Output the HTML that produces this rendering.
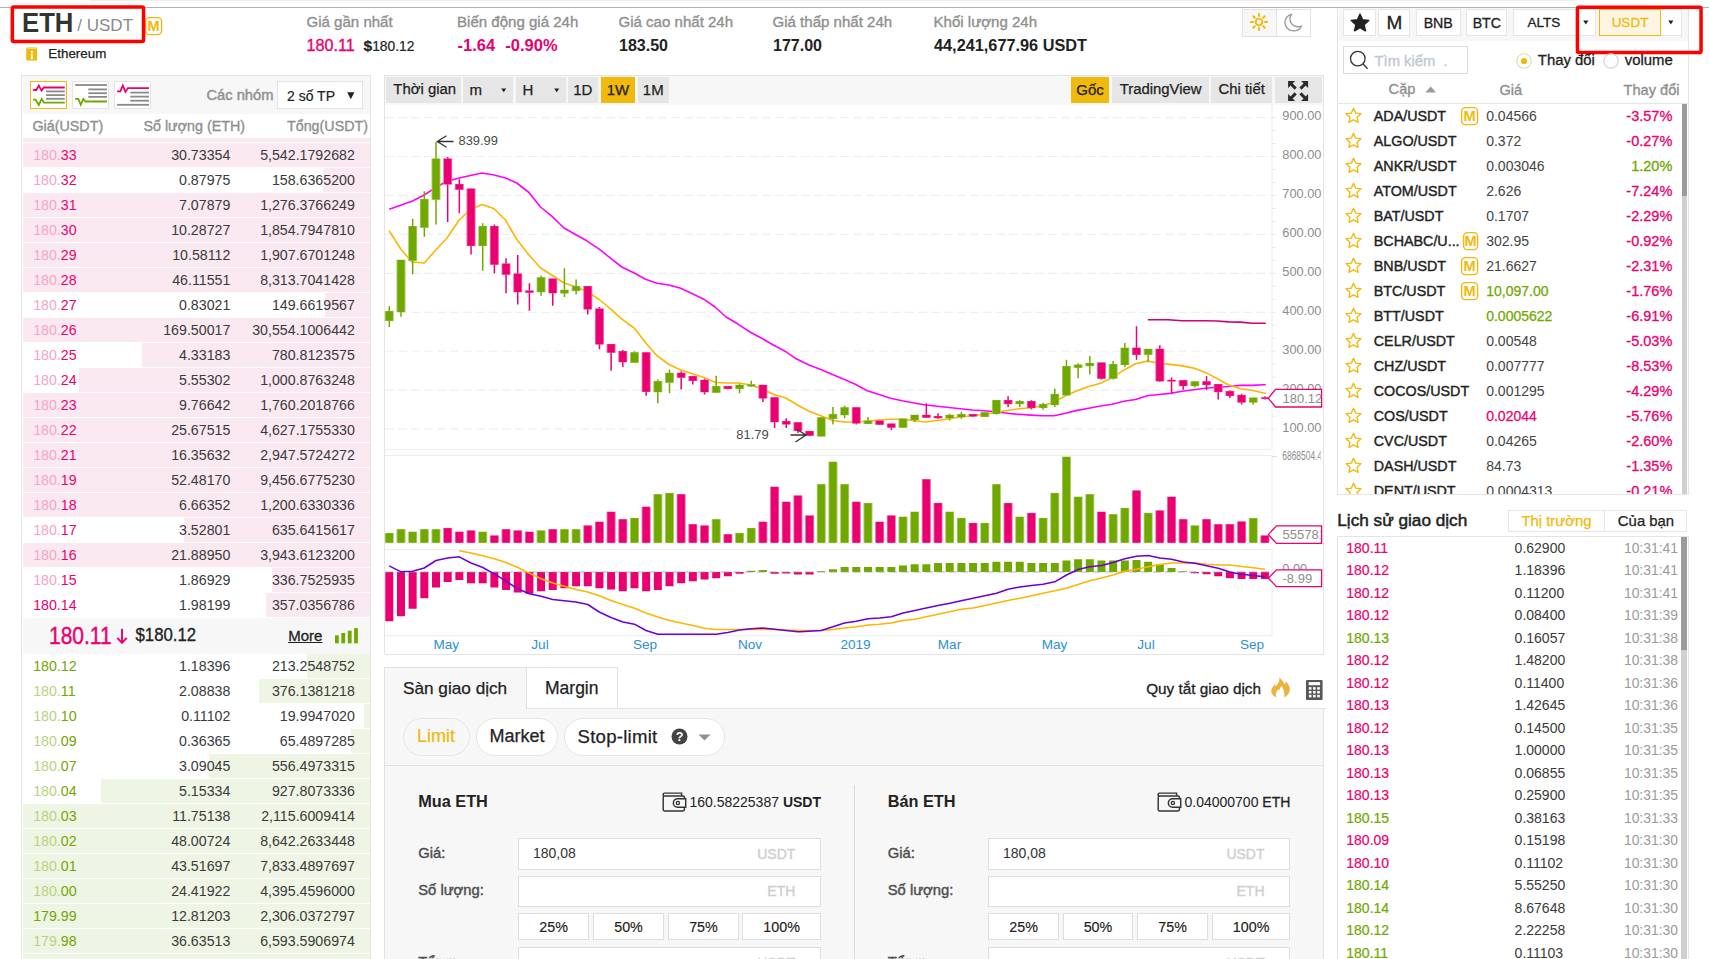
<!DOCTYPE html>
<html><head><meta charset="utf-8"><title>ETH/USDT</title>
<style>
html,body{margin:0;padding:0;}
body{width:1709px;height:959px;overflow:hidden;background:#fff;font-family:"Liberation Sans",sans-serif;position:relative;color:#333;}
#root{position:absolute;left:0;top:0;width:1709px;height:959px;overflow:hidden;}
svg{position:absolute;overflow:visible;}
</style></head><body><div id="root">
<div style="position:absolute;left:90.00px;top:0.00px;width:1487.00px;height:1.00px;box-sizing:border-box;background:#eef0f2;"></div>
<div style="position:absolute;left:0.00px;top:7.00px;width:1709.00px;height:1.00px;box-sizing:border-box;background:#b2b2b5;"></div>
<div style="position:absolute;left:22px;top:6px;font-size:27.5px;line-height:34px;font-weight:bold;color:#333;transform:scaleX(0.935);transform-origin:0 50%;white-space:nowrap;">ETH</div>
<div style="position:absolute;top:14.40px;line-height:24px;font-size:17px;color:#8a8a8a;white-space:nowrap;left:77.30px;">/ USDT</div>
<svg style="left:145.4px;top:16.6px" width="17.2" height="18.2" viewBox="0 0 17.2 18.2"><rect x="0.6" y="0.6" width="16" height="17" rx="3.6" fill="#fff" stroke="#f0b90b" stroke-width="1.4"/><text x="8.6" y="14.4" font-size="14.6" font-weight="bold" fill="#f0b90b" text-anchor="middle" font-family="Liberation Sans, sans-serif">M</text></svg>
<svg style="left:0;top:0" width="200" height="60"><rect x="12.35" y="7.05" width="131.2" height="34.4" rx="1.5" fill="none" stroke="#ff0000" stroke-width="3.5"/></svg>
<svg style="left:25px;top:46.5px" width="13" height="14" viewBox="0 0 13 14">
<path d="M1.2 2.2 Q1.2 0.6 2.8 0.6 H11 Q12.2 0.6 12.2 1.8 V12.4 Q12.2 13.6 11 13.6 H2.4 Q1.2 13.6 1.2 12.4 Z" fill="#f0b90b"/>
<path d="M2.2 1.6 H11.4" stroke="#f8d978" stroke-width="1" fill="none"/>
<rect x="5.9" y="6.8" width="1.9" height="5.2" fill="#fff"/><rect x="5.9" y="4" width="1.9" height="1.9" fill="#fff"/></svg>
<div style="position:absolute;top:44.00px;line-height:19px;font-size:13.4px;color:#222;white-space:nowrap;-webkit-text-stroke:0.25px #222;left:48.30px;">Ethereum</div>
<div style="position:absolute;top:10.50px;line-height:21px;font-size:15.05px;color:#8f8f8f;white-space:nowrap;-webkit-text-stroke:0.35px #8f8f8f;left:306.50px;">Giá gần nhất</div>
<div style="position:absolute;top:34.00px;line-height:23px;font-size:16.2px;color:#ea0070;white-space:nowrap;-webkit-text-stroke:0.35px #ea0070;left:306.50px;">180.11</div>
<div style="position:absolute;top:36.00px;line-height:19px;font-size:13.8px;color:#222;white-space:nowrap;-webkit-text-stroke:0.2px #222;left:363.50px;"><span style="font-weight:bold;font-size:15.5px">$</span>180.12</div>
<div style="position:absolute;top:10.50px;line-height:21px;font-size:15.05px;color:#8f8f8f;white-space:nowrap;-webkit-text-stroke:0.35px #8f8f8f;left:457.00px;">Biến động giá 24h</div>
<div style="position:absolute;top:34.00px;line-height:23px;font-size:16.5px;color:#ea0070;white-space:nowrap;font-weight:bold;left:457.50px;">-1.64</div>
<div style="position:absolute;top:34.00px;line-height:23px;font-size:16.5px;color:#ea0070;white-space:nowrap;font-weight:bold;left:505.30px;">-0.90%</div>
<div style="position:absolute;top:10.50px;line-height:21px;font-size:15.05px;color:#8f8f8f;white-space:nowrap;-webkit-text-stroke:0.35px #8f8f8f;left:618.50px;">Giá cao nhất 24h</div>
<div style="position:absolute;top:34.50px;line-height:22px;font-size:16px;color:#222;white-space:nowrap;font-weight:bold;left:619.00px;">183.50</div>
<div style="position:absolute;top:10.50px;line-height:21px;font-size:15.05px;color:#8f8f8f;white-space:nowrap;-webkit-text-stroke:0.35px #8f8f8f;left:772.50px;">Giá thấp nhất 24h</div>
<div style="position:absolute;top:34.50px;line-height:22px;font-size:16px;color:#222;white-space:nowrap;font-weight:bold;left:773.00px;">177.00</div>
<div style="position:absolute;top:10.50px;line-height:21px;font-size:15.05px;color:#8f8f8f;white-space:nowrap;-webkit-text-stroke:0.35px #8f8f8f;left:933.50px;">Khối lượng 24h</div>
<div style="position:absolute;top:34.00px;line-height:23px;font-size:16.3px;color:#222;white-space:nowrap;font-weight:bold;left:934.00px;">44,241,677.96 USDT</div>
<div style="position:absolute;left:1242.00px;top:9.20px;width:69.00px;height:27.80px;box-sizing:border-box;background:#fff;border:1px solid #e3e3e3;"></div>
<div style="position:absolute;left:1243.00px;top:10.20px;width:33.50px;height:25.80px;box-sizing:border-box;background:#f7f7f7;border-right:1px solid #e3e3e3;"></div>
<svg style="left:1247.9px;top:11.3px" width="22" height="22" viewBox="0 0 22 22" fill="none" stroke="#f0b90b" stroke-width="2" stroke-linecap="round">
<circle cx="11" cy="11" r="3.35" stroke-width="1.9"/>
<path d="M11 2.9V5M11 17V19.1M2.9 11H5M17 11H19.1M5.3 5.3L6.8 6.8M15.2 15.2L16.7 16.7M5.3 16.7L6.8 15.2M15.2 6.8L16.7 5.3"/></svg>
<svg style="left:1283px;top:12px" width="22" height="22" viewBox="0 0 22 22" fill="none" stroke="#9a9a9a" stroke-width="1.35" stroke-linejoin="round">
<path d="M8.7 2.1 C4.5 3.5 1.9 6.5 1.9 10.3 C1.9 15.2 5.8 18.9 10.6 18.9 C14.2 18.9 17.2 17 18.5 14 C16.9 14.7 15.3 14.9 13.6 14.5 C10.9 13.9 8.7 12.4 7.6 9.9 C6.5 7.4 6.9 4.5 8.7 2.1 Z"/></svg>
<div style="position:absolute;left:21.00px;top:75.00px;width:350.00px;height:889.00px;box-sizing:border-box;background:#fff;border:1px solid #e4e4e4;"></div>
<div style="position:absolute;left:23.00px;top:76.00px;width:347.00px;height:38.00px;box-sizing:border-box;background:#f7f7f7;"></div>
<svg style="left:30px;top:81px" width="37" height="28" viewBox="0 0 37 28" fill="none"><rect x="0.5" y="0.5" width="36" height="27" fill="#fff" stroke="#f0b90b"/><path d="M3.1 9H6.3L8.8 4.6L11.6 9.6L13.8 6.5H34.8" stroke="#ea0070" stroke-width="1.8"/><path d="M16 10.4H34.8" stroke="#8a8a8a" stroke-width="1.8"/><path d="M16 14.1H34.8" stroke="#8a8a8a" stroke-width="1.8"/><path d="M16 17.8H34.8" stroke="#8a8a8a" stroke-width="1.8"/><path d="M3.1 18.7H5.6L8.8 24L11.6 18L14 21.6H34.8" stroke="#70a800" stroke-width="1.8"/></svg>
<svg style="left:72px;top:81px" width="37" height="28" viewBox="0 0 37 28" fill="none"><rect x="0.5" y="0.5" width="36" height="27" fill="#fff" stroke="#e4e4e4"/><path d="M3.1 4H35" stroke="#8a8a8a" stroke-width="1.8"/><path d="M16.3 8.4H35" stroke="#8a8a8a" stroke-width="1.8"/><path d="M16.3 12.2H35" stroke="#8a8a8a" stroke-width="1.8"/><path d="M16.3 15.9H35" stroke="#8a8a8a" stroke-width="1.8"/><path d="M3.1 17.8H6.3L8.8 23.8L11.3 18L13.4 20.5H35" stroke="#70a800" stroke-width="1.8"/></svg>
<svg style="left:114px;top:81px" width="37" height="28" viewBox="0 0 37 28" fill="none"><rect x="0.5" y="0.5" width="36" height="27" fill="#fff" stroke="#e4e4e4"/><path d="M3.1 10.3H6.3L8.8 4.6L11.5 10.9L13.8 7.1H35" stroke="#ea0070" stroke-width="1.8"/><path d="M16.3 11.6H35" stroke="#8a8a8a" stroke-width="1.8"/><path d="M16.3 15.6H35" stroke="#8a8a8a" stroke-width="1.8"/><path d="M16.3 19.7H35" stroke="#8a8a8a" stroke-width="1.8"/><path d="M3.1 23.8H35" stroke="#8a8a8a" stroke-width="1.8"/></svg>
<div style="position:absolute;top:84.50px;line-height:21px;font-size:14.7px;color:#919191;white-space:nowrap;-webkit-text-stroke:0.45px #919191;left:206.50px;">Các nhóm</div>
<div style="position:absolute;left:277.00px;top:81.00px;width:86.00px;height:27.50px;box-sizing:border-box;background:#fff;border:1px solid #e4e4e4;"></div>
<div style="position:absolute;top:85.50px;line-height:20px;font-size:14px;color:#222;white-space:nowrap;-webkit-text-stroke:0.2px #222;left:287.00px;">2 số TP</div>
<svg style="left:346.5px;top:92px" width="8" height="8" viewBox="0 0 8 8"><path d="M0.2 0.3H7.4L3.8 7.2Z" fill="#222"/></svg>
<div style="position:absolute;top:116.00px;line-height:20px;font-size:14.3px;color:#8f8f8f;white-space:nowrap;-webkit-text-stroke:0.35px #8f8f8f;left:32.50px;">Giá(USDT)</div>
<div style="position:absolute;top:116.00px;line-height:20px;font-size:14.3px;color:#8f8f8f;white-space:nowrap;-webkit-text-stroke:0.35px #8f8f8f;right:1464.00px;">Số lượng (ETH)</div>
<div style="position:absolute;top:116.00px;line-height:20px;font-size:14.3px;color:#8f8f8f;white-space:nowrap;-webkit-text-stroke:0.35px #8f8f8f;right:1341.00px;">Tổng(USDT)</div>
<div style="position:absolute;left:23.00px;top:138.00px;width:346.70px;height:3.80px;box-sizing:border-box;background:#fbe9f1;"></div>
<div style="position:absolute;left:23.00px;top:143.30px;width:346.70px;height:23.40px;box-sizing:border-box;background:#fbe9f1;"></div>
<div style="position:absolute;top:144.90px;line-height:20px;font-size:14.2px;color:#333;white-space:nowrap;left:33.20px;"><span style="color:#f7a3c9">180.</span><span style="color:#ea0070">33</span></div>
<div style="position:absolute;top:144.90px;line-height:20px;font-size:14.2px;color:#3a3a3a;white-space:nowrap;right:1478.70px;">30.73354</div>
<div style="position:absolute;top:144.90px;line-height:20px;font-size:14.2px;color:#3a3a3a;white-space:nowrap;right:1354.20px;">5,542.1792682</div>
<div style="position:absolute;left:322.80px;top:168.30px;width:46.90px;height:23.40px;box-sizing:border-box;background:#fbe9f1;"></div>
<div style="position:absolute;top:169.90px;line-height:20px;font-size:14.2px;color:#333;white-space:nowrap;left:33.20px;"><span style="color:#f7a3c9">180.</span><span style="color:#ea0070">32</span></div>
<div style="position:absolute;top:169.90px;line-height:20px;font-size:14.2px;color:#3a3a3a;white-space:nowrap;right:1478.70px;">0.87975</div>
<div style="position:absolute;top:169.90px;line-height:20px;font-size:14.2px;color:#3a3a3a;white-space:nowrap;right:1354.20px;">158.6365200</div>
<div style="position:absolute;left:23.00px;top:193.30px;width:346.70px;height:23.40px;box-sizing:border-box;background:#fbe9f1;"></div>
<div style="position:absolute;top:194.90px;line-height:20px;font-size:14.2px;color:#333;white-space:nowrap;left:33.20px;"><span style="color:#f7a3c9">180.</span><span style="color:#ea0070">31</span></div>
<div style="position:absolute;top:194.90px;line-height:20px;font-size:14.2px;color:#3a3a3a;white-space:nowrap;right:1478.70px;">7.07879</div>
<div style="position:absolute;top:194.90px;line-height:20px;font-size:14.2px;color:#3a3a3a;white-space:nowrap;right:1354.20px;">1,276.3766249</div>
<div style="position:absolute;left:23.00px;top:218.30px;width:346.70px;height:23.40px;box-sizing:border-box;background:#fbe9f1;"></div>
<div style="position:absolute;top:219.90px;line-height:20px;font-size:14.2px;color:#333;white-space:nowrap;left:33.20px;"><span style="color:#f7a3c9">180.</span><span style="color:#ea0070">30</span></div>
<div style="position:absolute;top:219.90px;line-height:20px;font-size:14.2px;color:#3a3a3a;white-space:nowrap;right:1478.70px;">10.28727</div>
<div style="position:absolute;top:219.90px;line-height:20px;font-size:14.2px;color:#3a3a3a;white-space:nowrap;right:1354.20px;">1,854.7947810</div>
<div style="position:absolute;left:23.00px;top:243.30px;width:346.70px;height:23.40px;box-sizing:border-box;background:#fbe9f1;"></div>
<div style="position:absolute;top:244.90px;line-height:20px;font-size:14.2px;color:#333;white-space:nowrap;left:33.20px;"><span style="color:#f7a3c9">180.</span><span style="color:#ea0070">29</span></div>
<div style="position:absolute;top:244.90px;line-height:20px;font-size:14.2px;color:#3a3a3a;white-space:nowrap;right:1478.70px;">10.58112</div>
<div style="position:absolute;top:244.90px;line-height:20px;font-size:14.2px;color:#3a3a3a;white-space:nowrap;right:1354.20px;">1,907.6701248</div>
<div style="position:absolute;left:23.00px;top:268.30px;width:346.70px;height:23.40px;box-sizing:border-box;background:#fbe9f1;"></div>
<div style="position:absolute;top:269.90px;line-height:20px;font-size:14.2px;color:#333;white-space:nowrap;left:33.20px;"><span style="color:#f7a3c9">180.</span><span style="color:#ea0070">28</span></div>
<div style="position:absolute;top:269.90px;line-height:20px;font-size:14.2px;color:#3a3a3a;white-space:nowrap;right:1478.70px;">46.11551</div>
<div style="position:absolute;top:269.90px;line-height:20px;font-size:14.2px;color:#3a3a3a;white-space:nowrap;right:1354.20px;">8,313.7041428</div>
<div style="position:absolute;left:325.40px;top:293.30px;width:44.30px;height:23.40px;box-sizing:border-box;background:#fbe9f1;"></div>
<div style="position:absolute;top:294.90px;line-height:20px;font-size:14.2px;color:#333;white-space:nowrap;left:33.20px;"><span style="color:#f7a3c9">180.</span><span style="color:#ea0070">27</span></div>
<div style="position:absolute;top:294.90px;line-height:20px;font-size:14.2px;color:#3a3a3a;white-space:nowrap;right:1478.70px;">0.83021</div>
<div style="position:absolute;top:294.90px;line-height:20px;font-size:14.2px;color:#3a3a3a;white-space:nowrap;right:1354.20px;">149.6619567</div>
<div style="position:absolute;left:23.00px;top:318.30px;width:346.70px;height:23.40px;box-sizing:border-box;background:#fbe9f1;"></div>
<div style="position:absolute;top:319.90px;line-height:20px;font-size:14.2px;color:#333;white-space:nowrap;left:33.20px;"><span style="color:#f7a3c9">180.</span><span style="color:#ea0070">26</span></div>
<div style="position:absolute;top:319.90px;line-height:20px;font-size:14.2px;color:#3a3a3a;white-space:nowrap;right:1478.70px;">169.50017</div>
<div style="position:absolute;top:319.90px;line-height:20px;font-size:14.2px;color:#3a3a3a;white-space:nowrap;right:1354.20px;">30,554.1006442</div>
<div style="position:absolute;left:141.80px;top:343.30px;width:227.90px;height:23.40px;box-sizing:border-box;background:#fbe9f1;"></div>
<div style="position:absolute;top:344.90px;line-height:20px;font-size:14.2px;color:#333;white-space:nowrap;left:33.20px;"><span style="color:#f7a3c9">180.</span><span style="color:#ea0070">25</span></div>
<div style="position:absolute;top:344.90px;line-height:20px;font-size:14.2px;color:#3a3a3a;white-space:nowrap;right:1478.70px;">4.33183</div>
<div style="position:absolute;top:344.90px;line-height:20px;font-size:14.2px;color:#3a3a3a;white-space:nowrap;right:1354.20px;">780.8123575</div>
<div style="position:absolute;left:79.00px;top:368.30px;width:290.70px;height:23.40px;box-sizing:border-box;background:#fbe9f1;"></div>
<div style="position:absolute;top:369.90px;line-height:20px;font-size:14.2px;color:#333;white-space:nowrap;left:33.20px;"><span style="color:#f7a3c9">180.</span><span style="color:#ea0070">24</span></div>
<div style="position:absolute;top:369.90px;line-height:20px;font-size:14.2px;color:#3a3a3a;white-space:nowrap;right:1478.70px;">5.55302</div>
<div style="position:absolute;top:369.90px;line-height:20px;font-size:14.2px;color:#3a3a3a;white-space:nowrap;right:1354.20px;">1,000.8763248</div>
<div style="position:absolute;left:23.00px;top:393.30px;width:346.70px;height:23.40px;box-sizing:border-box;background:#fbe9f1;"></div>
<div style="position:absolute;top:394.90px;line-height:20px;font-size:14.2px;color:#333;white-space:nowrap;left:33.20px;"><span style="color:#f7a3c9">180.</span><span style="color:#ea0070">23</span></div>
<div style="position:absolute;top:394.90px;line-height:20px;font-size:14.2px;color:#3a3a3a;white-space:nowrap;right:1478.70px;">9.76642</div>
<div style="position:absolute;top:394.90px;line-height:20px;font-size:14.2px;color:#3a3a3a;white-space:nowrap;right:1354.20px;">1,760.2018766</div>
<div style="position:absolute;left:23.00px;top:418.30px;width:346.70px;height:23.40px;box-sizing:border-box;background:#fbe9f1;"></div>
<div style="position:absolute;top:419.90px;line-height:20px;font-size:14.2px;color:#333;white-space:nowrap;left:33.20px;"><span style="color:#f7a3c9">180.</span><span style="color:#ea0070">22</span></div>
<div style="position:absolute;top:419.90px;line-height:20px;font-size:14.2px;color:#3a3a3a;white-space:nowrap;right:1478.70px;">25.67515</div>
<div style="position:absolute;top:419.90px;line-height:20px;font-size:14.2px;color:#3a3a3a;white-space:nowrap;right:1354.20px;">4,627.1755330</div>
<div style="position:absolute;left:23.00px;top:443.30px;width:346.70px;height:23.40px;box-sizing:border-box;background:#fbe9f1;"></div>
<div style="position:absolute;top:444.90px;line-height:20px;font-size:14.2px;color:#333;white-space:nowrap;left:33.20px;"><span style="color:#f7a3c9">180.</span><span style="color:#ea0070">21</span></div>
<div style="position:absolute;top:444.90px;line-height:20px;font-size:14.2px;color:#3a3a3a;white-space:nowrap;right:1478.70px;">16.35632</div>
<div style="position:absolute;top:444.90px;line-height:20px;font-size:14.2px;color:#3a3a3a;white-space:nowrap;right:1354.20px;">2,947.5724272</div>
<div style="position:absolute;left:23.00px;top:468.30px;width:346.70px;height:23.40px;box-sizing:border-box;background:#fbe9f1;"></div>
<div style="position:absolute;top:469.90px;line-height:20px;font-size:14.2px;color:#333;white-space:nowrap;left:33.20px;"><span style="color:#f7a3c9">180.</span><span style="color:#ea0070">19</span></div>
<div style="position:absolute;top:469.90px;line-height:20px;font-size:14.2px;color:#3a3a3a;white-space:nowrap;right:1478.70px;">52.48170</div>
<div style="position:absolute;top:469.90px;line-height:20px;font-size:14.2px;color:#3a3a3a;white-space:nowrap;right:1354.20px;">9,456.6775230</div>
<div style="position:absolute;left:23.00px;top:493.30px;width:346.70px;height:23.40px;box-sizing:border-box;background:#fbe9f1;"></div>
<div style="position:absolute;top:494.90px;line-height:20px;font-size:14.2px;color:#333;white-space:nowrap;left:33.20px;"><span style="color:#f7a3c9">180.</span><span style="color:#ea0070">18</span></div>
<div style="position:absolute;top:494.90px;line-height:20px;font-size:14.2px;color:#3a3a3a;white-space:nowrap;right:1478.70px;">6.66352</div>
<div style="position:absolute;top:494.90px;line-height:20px;font-size:14.2px;color:#3a3a3a;white-space:nowrap;right:1354.20px;">1,200.6330336</div>
<div style="position:absolute;left:183.60px;top:518.30px;width:186.10px;height:23.40px;box-sizing:border-box;background:#fbe9f1;"></div>
<div style="position:absolute;top:519.90px;line-height:20px;font-size:14.2px;color:#333;white-space:nowrap;left:33.20px;"><span style="color:#f7a3c9">180.</span><span style="color:#ea0070">17</span></div>
<div style="position:absolute;top:519.90px;line-height:20px;font-size:14.2px;color:#3a3a3a;white-space:nowrap;right:1478.70px;">3.52801</div>
<div style="position:absolute;top:519.90px;line-height:20px;font-size:14.2px;color:#3a3a3a;white-space:nowrap;right:1354.20px;">635.6415617</div>
<div style="position:absolute;left:23.00px;top:543.30px;width:346.70px;height:23.40px;box-sizing:border-box;background:#fbe9f1;"></div>
<div style="position:absolute;top:544.90px;line-height:20px;font-size:14.2px;color:#333;white-space:nowrap;left:33.20px;"><span style="color:#f7a3c9">180.</span><span style="color:#ea0070">16</span></div>
<div style="position:absolute;top:544.90px;line-height:20px;font-size:14.2px;color:#3a3a3a;white-space:nowrap;right:1478.70px;">21.88950</div>
<div style="position:absolute;top:544.90px;line-height:20px;font-size:14.2px;color:#3a3a3a;white-space:nowrap;right:1354.20px;">3,943.6123200</div>
<div style="position:absolute;left:272.00px;top:568.30px;width:97.70px;height:23.40px;box-sizing:border-box;background:#fbe9f1;"></div>
<div style="position:absolute;top:569.90px;line-height:20px;font-size:14.2px;color:#333;white-space:nowrap;left:33.20px;"><span style="color:#f7a3c9">180.</span><span style="color:#ea0070">15</span></div>
<div style="position:absolute;top:569.90px;line-height:20px;font-size:14.2px;color:#3a3a3a;white-space:nowrap;right:1478.70px;">1.86929</div>
<div style="position:absolute;top:569.90px;line-height:20px;font-size:14.2px;color:#3a3a3a;white-space:nowrap;right:1354.20px;">336.7525935</div>
<div style="position:absolute;left:266.00px;top:593.30px;width:103.70px;height:23.40px;box-sizing:border-box;background:#fbe9f1;"></div>
<div style="position:absolute;top:594.90px;line-height:20px;font-size:14.2px;color:#333;white-space:nowrap;left:33.20px;"><span style="color:#ea0070">180.14</span></div>
<div style="position:absolute;top:594.90px;line-height:20px;font-size:14.2px;color:#3a3a3a;white-space:nowrap;right:1478.70px;">1.98199</div>
<div style="position:absolute;top:594.90px;line-height:20px;font-size:14.2px;color:#3a3a3a;white-space:nowrap;right:1354.20px;">357.0356786</div>
<div style="position:absolute;left:23.00px;top:618.00px;width:346.70px;height:36.00px;box-sizing:border-box;background:#f7f7f7;"></div>
<div style="position:absolute;left:49px;top:622px;line-height:28px;font-size:21px;color:#ea0070;-webkit-text-stroke:0.4px #ea0070;transform:scaleY(1.1);transform-origin:0 50%;white-space:nowrap;">180.11</div>
<svg style="left:115.5px;top:627.5px" width="12" height="17" viewBox="0 0 12 17" fill="none" stroke="#ea0070" stroke-width="1.9"><path d="M6 0.8V14.5M1.3 9.8L6 14.8L10.7 9.8"/></svg>
<div style="position:absolute;left:135.5px;top:623px;line-height:26px;font-size:16.8px;color:#222;-webkit-text-stroke:0.3px #222;transform:scaleY(1.08);transform-origin:0 50%;white-space:nowrap;">$180.12</div>
<div style="position:absolute;top:624.90px;line-height:21px;font-size:15px;color:#222;white-space:nowrap;-webkit-text-stroke:0.3px #222;left:288.20px;text-decoration:underline;">More</div>
<svg style="left:335.1px;top:628px" width="24" height="16" viewBox="0 0 24 16" fill="#70a800"><rect x="0" y="7.3" width="3.8" height="8"/><rect x="6.3" y="5" width="3.8" height="10.3"/><rect x="12.8" y="2.7" width="3.8" height="12.6"/><rect x="19.1" y="0.1" width="3.8" height="15.2"/></svg>
<div style="position:absolute;left:306.90px;top:654.20px;width:62.80px;height:23.60px;box-sizing:border-box;background:#eff5e4;"></div>
<div style="position:absolute;top:656.40px;line-height:20px;font-size:14.2px;color:#333;white-space:nowrap;left:33.20px;"><span style="color:#70a800">180.12</span></div>
<div style="position:absolute;top:656.40px;line-height:20px;font-size:14.2px;color:#3a3a3a;white-space:nowrap;right:1478.70px;">1.18396</div>
<div style="position:absolute;top:656.40px;line-height:20px;font-size:14.2px;color:#3a3a3a;white-space:nowrap;right:1354.20px;">213.2548752</div>
<div style="position:absolute;left:259.00px;top:679.20px;width:110.70px;height:23.60px;box-sizing:border-box;background:#eff5e4;"></div>
<div style="position:absolute;top:681.40px;line-height:20px;font-size:14.2px;color:#333;white-space:nowrap;left:33.20px;"><span style="color:#b7d37f">180.</span><span style="color:#70a800">11</span></div>
<div style="position:absolute;top:681.40px;line-height:20px;font-size:14.2px;color:#3a3a3a;white-space:nowrap;right:1478.70px;">2.08838</div>
<div style="position:absolute;top:681.40px;line-height:20px;font-size:14.2px;color:#3a3a3a;white-space:nowrap;right:1354.20px;">376.1381218</div>
<div style="position:absolute;left:363.80px;top:704.20px;width:5.90px;height:23.60px;box-sizing:border-box;background:#eff5e4;"></div>
<div style="position:absolute;top:706.40px;line-height:20px;font-size:14.2px;color:#333;white-space:nowrap;left:33.20px;"><span style="color:#b7d37f">180.</span><span style="color:#70a800">10</span></div>
<div style="position:absolute;top:706.40px;line-height:20px;font-size:14.2px;color:#3a3a3a;white-space:nowrap;right:1478.70px;">0.11102</div>
<div style="position:absolute;top:706.40px;line-height:20px;font-size:14.2px;color:#3a3a3a;white-space:nowrap;right:1354.20px;">19.9947020</div>
<div style="position:absolute;left:351.00px;top:729.20px;width:18.70px;height:23.60px;box-sizing:border-box;background:#eff5e4;"></div>
<div style="position:absolute;top:731.40px;line-height:20px;font-size:14.2px;color:#333;white-space:nowrap;left:33.20px;"><span style="color:#b7d37f">180.</span><span style="color:#70a800">09</span></div>
<div style="position:absolute;top:731.40px;line-height:20px;font-size:14.2px;color:#3a3a3a;white-space:nowrap;right:1478.70px;">0.36365</div>
<div style="position:absolute;top:731.40px;line-height:20px;font-size:14.2px;color:#3a3a3a;white-space:nowrap;right:1354.20px;">65.4897285</div>
<div style="position:absolute;left:208.80px;top:754.20px;width:160.90px;height:23.60px;box-sizing:border-box;background:#eff5e4;"></div>
<div style="position:absolute;top:756.40px;line-height:20px;font-size:14.2px;color:#333;white-space:nowrap;left:33.20px;"><span style="color:#b7d37f">180.</span><span style="color:#70a800">07</span></div>
<div style="position:absolute;top:756.40px;line-height:20px;font-size:14.2px;color:#3a3a3a;white-space:nowrap;right:1478.70px;">3.09045</div>
<div style="position:absolute;top:756.40px;line-height:20px;font-size:14.2px;color:#3a3a3a;white-space:nowrap;right:1354.20px;">556.4973315</div>
<div style="position:absolute;left:101.00px;top:779.20px;width:268.70px;height:23.60px;box-sizing:border-box;background:#eff5e4;"></div>
<div style="position:absolute;top:781.40px;line-height:20px;font-size:14.2px;color:#333;white-space:nowrap;left:33.20px;"><span style="color:#b7d37f">180.</span><span style="color:#70a800">04</span></div>
<div style="position:absolute;top:781.40px;line-height:20px;font-size:14.2px;color:#3a3a3a;white-space:nowrap;right:1478.70px;">5.15334</div>
<div style="position:absolute;top:781.40px;line-height:20px;font-size:14.2px;color:#3a3a3a;white-space:nowrap;right:1354.20px;">927.8073336</div>
<div style="position:absolute;left:23.00px;top:804.20px;width:346.70px;height:23.60px;box-sizing:border-box;background:#eff5e4;"></div>
<div style="position:absolute;top:806.40px;line-height:20px;font-size:14.2px;color:#333;white-space:nowrap;left:33.20px;"><span style="color:#b7d37f">180.</span><span style="color:#70a800">03</span></div>
<div style="position:absolute;top:806.40px;line-height:20px;font-size:14.2px;color:#3a3a3a;white-space:nowrap;right:1478.70px;">11.75138</div>
<div style="position:absolute;top:806.40px;line-height:20px;font-size:14.2px;color:#3a3a3a;white-space:nowrap;right:1354.20px;">2,115.6009414</div>
<div style="position:absolute;left:23.00px;top:829.20px;width:346.70px;height:23.60px;box-sizing:border-box;background:#eff5e4;"></div>
<div style="position:absolute;top:831.40px;line-height:20px;font-size:14.2px;color:#333;white-space:nowrap;left:33.20px;"><span style="color:#b7d37f">180.</span><span style="color:#70a800">02</span></div>
<div style="position:absolute;top:831.40px;line-height:20px;font-size:14.2px;color:#3a3a3a;white-space:nowrap;right:1478.70px;">48.00724</div>
<div style="position:absolute;top:831.40px;line-height:20px;font-size:14.2px;color:#3a3a3a;white-space:nowrap;right:1354.20px;">8,642.2633448</div>
<div style="position:absolute;left:23.00px;top:854.20px;width:346.70px;height:23.60px;box-sizing:border-box;background:#eff5e4;"></div>
<div style="position:absolute;top:856.40px;line-height:20px;font-size:14.2px;color:#333;white-space:nowrap;left:33.20px;"><span style="color:#b7d37f">180.</span><span style="color:#70a800">01</span></div>
<div style="position:absolute;top:856.40px;line-height:20px;font-size:14.2px;color:#3a3a3a;white-space:nowrap;right:1478.70px;">43.51697</div>
<div style="position:absolute;top:856.40px;line-height:20px;font-size:14.2px;color:#3a3a3a;white-space:nowrap;right:1354.20px;">7,833.4897697</div>
<div style="position:absolute;left:23.00px;top:879.20px;width:346.70px;height:23.60px;box-sizing:border-box;background:#eff5e4;"></div>
<div style="position:absolute;top:881.40px;line-height:20px;font-size:14.2px;color:#333;white-space:nowrap;left:33.20px;"><span style="color:#b7d37f">180.</span><span style="color:#70a800">00</span></div>
<div style="position:absolute;top:881.40px;line-height:20px;font-size:14.2px;color:#3a3a3a;white-space:nowrap;right:1478.70px;">24.41922</div>
<div style="position:absolute;top:881.40px;line-height:20px;font-size:14.2px;color:#3a3a3a;white-space:nowrap;right:1354.20px;">4,395.4596000</div>
<div style="position:absolute;left:23.00px;top:904.20px;width:346.70px;height:23.60px;box-sizing:border-box;background:#eff5e4;"></div>
<div style="position:absolute;top:906.40px;line-height:20px;font-size:14.2px;color:#333;white-space:nowrap;left:33.20px;"><span style="color:#70a800">179.99</span></div>
<div style="position:absolute;top:906.40px;line-height:20px;font-size:14.2px;color:#3a3a3a;white-space:nowrap;right:1478.70px;">12.81203</div>
<div style="position:absolute;top:906.40px;line-height:20px;font-size:14.2px;color:#3a3a3a;white-space:nowrap;right:1354.20px;">2,306.0372797</div>
<div style="position:absolute;left:23.00px;top:929.20px;width:346.70px;height:23.60px;box-sizing:border-box;background:#eff5e4;"></div>
<div style="position:absolute;top:931.40px;line-height:20px;font-size:14.2px;color:#333;white-space:nowrap;left:33.20px;"><span style="color:#b7d37f">179.</span><span style="color:#70a800">98</span></div>
<div style="position:absolute;top:931.40px;line-height:20px;font-size:14.2px;color:#3a3a3a;white-space:nowrap;right:1478.70px;">36.63513</div>
<div style="position:absolute;top:931.40px;line-height:20px;font-size:14.2px;color:#3a3a3a;white-space:nowrap;right:1354.20px;">6,593.5906974</div>
<div style="position:absolute;left:23.00px;top:954.20px;width:346.70px;height:23.60px;box-sizing:border-box;background:#eff5e4;"></div>
<div style="position:absolute;top:956.40px;line-height:20px;font-size:14.2px;color:#333;white-space:nowrap;left:33.20px;"><span style="color:#b7d37f">179.</span><span style="color:#70a800">97</span></div>
<div style="position:absolute;top:956.40px;line-height:20px;font-size:14.2px;color:#3a3a3a;white-space:nowrap;right:1478.70px;">8.20000</div>
<div style="position:absolute;top:956.40px;line-height:20px;font-size:14.2px;color:#3a3a3a;white-space:nowrap;right:1354.20px;">1,475.7540000</div>
<div style="position:absolute;left:384.00px;top:75.00px;width:940.00px;height:580.00px;box-sizing:border-box;background:#fff;border:1px solid #e4e4e4;"></div>
<div style="position:absolute;left:385.00px;top:76.00px;width:938.00px;height:28.50px;box-sizing:border-box;background:#f7f7f7;"></div>
<div style="position:absolute;left:386.00px;top:77.00px;width:75.00px;height:25.50px;box-sizing:border-box;background:#e6e6e6;"></div>
<div style="position:absolute;top:79.30px;line-height:21px;font-size:14.9px;color:#222;white-space:nowrap;-webkit-text-stroke:0.25px #222;left:393.30px;">Thời gian</div>
<div style="position:absolute;left:463.00px;top:77.00px;width:49.50px;height:25.50px;box-sizing:border-box;background:#e6e6e6;"></div>
<div style="position:absolute;top:79.30px;line-height:21px;font-size:15px;color:#222;white-space:nowrap;-webkit-text-stroke:0.25px #222;left:469.50px;">m</div>
<div style="position:absolute;left:516.30px;top:77.00px;width:49.50px;height:25.50px;box-sizing:border-box;background:#e6e6e6;"></div>
<div style="position:absolute;top:79.30px;line-height:21px;font-size:15px;color:#222;white-space:nowrap;-webkit-text-stroke:0.25px #222;left:522.50px;">H</div>
<svg style="left:500.7px;top:87.8px" width="6" height="5" viewBox="0 0 6 5"><path d="M0.2 0.4H5.2L2.7 4.2Z" fill="#222"/></svg>
<svg style="left:553.9px;top:87.8px" width="6" height="5" viewBox="0 0 6 5"><path d="M0.2 0.4H5.2L2.7 4.2Z" fill="#222"/></svg>
<div style="position:absolute;left:568.00px;top:77.00px;width:29.50px;height:25.50px;box-sizing:border-box;background:#e6e6e6;"></div>
<div style="position:absolute;top:79.30px;line-height:21px;font-size:15px;color:#222;white-space:nowrap;-webkit-text-stroke:0.25px #222;left:382.75px;width:400px;text-align:center;">1D</div>
<div style="position:absolute;left:601.00px;top:77.00px;width:34.00px;height:25.50px;box-sizing:border-box;background:#f0b90b;"></div>
<div style="position:absolute;top:79.30px;line-height:21px;font-size:15px;color:#222;white-space:nowrap;-webkit-text-stroke:0.25px #222;left:418.00px;width:400px;text-align:center;">1W</div>
<div style="position:absolute;left:637.50px;top:77.00px;width:31.50px;height:25.50px;box-sizing:border-box;background:#e6e6e6;"></div>
<div style="position:absolute;top:79.30px;line-height:21px;font-size:15px;color:#222;white-space:nowrap;-webkit-text-stroke:0.25px #222;left:453.25px;width:400px;text-align:center;">1M</div>
<div style="position:absolute;left:1071.00px;top:77.00px;width:38.00px;height:25.50px;box-sizing:border-box;background:#f0b90b;"></div>
<div style="position:absolute;top:79.30px;line-height:21px;font-size:15px;color:#222;white-space:nowrap;-webkit-text-stroke:0.25px #222;left:890.00px;width:400px;text-align:center;">Gốc</div>
<div style="position:absolute;left:1112.00px;top:77.00px;width:97.30px;height:25.50px;box-sizing:border-box;background:#e6e6e6;"></div>
<div style="position:absolute;top:79.30px;line-height:21px;font-size:14.9px;color:#222;white-space:nowrap;-webkit-text-stroke:0.25px #222;left:960.65px;width:400px;text-align:center;">TradingView</div>
<div style="position:absolute;left:1211.30px;top:77.00px;width:60.70px;height:25.50px;box-sizing:border-box;background:#e6e6e6;"></div>
<div style="position:absolute;top:79.30px;line-height:21px;font-size:14.9px;color:#222;white-space:nowrap;-webkit-text-stroke:0.25px #222;left:1041.65px;width:400px;text-align:center;">Chi tiết</div>
<div style="position:absolute;left:1275.00px;top:77.00px;width:47.20px;height:25.50px;box-sizing:border-box;background:#e6e6e6;"></div>
<svg style="left:1288.4px;top:80.5px" width="20.2" height="20" viewBox="0 0 20 20" fill="#2b2b2b" stroke="#2b2b2b">
<path d="M0 0H7L0 7Z M20 0H13L20 7Z M0 20H7L0 13Z M20 20H13L20 13Z" stroke="none"/>
<path d="M2.5 2.5L7.6 7.6M17.5 2.5L12.4 7.6M2.5 17.5L7.6 12.4M17.5 17.5L12.4 12.4" stroke-width="3" fill="none"/></svg>
<svg style="left:0;top:0" width="1709" height="959" viewBox="0 0 1709 959" font-family="Liberation Sans, sans-serif" fill="none"><path d="M385 449.5H1272.0V104.5" stroke="#ececec" fill="none"/>
<path d="M385 455.5H1272.0V543.2H385" stroke="#ececec" fill="none"/>
<path d="M385 549.5H1272.0V635.7H385" stroke="#ececec" fill="none"/>
<path d="M385.00 429.15L1272.00 429.15" stroke="#efefef" stroke-width="1.2" stroke-dasharray="9 4" />
<path d="M385.00 390.20L1272.00 390.20" stroke="#efefef" stroke-width="1.2" stroke-dasharray="9 4" />
<path d="M385.00 351.25L1272.00 351.25" stroke="#efefef" stroke-width="1.2" stroke-dasharray="9 4" />
<path d="M385.00 312.30L1272.00 312.30" stroke="#efefef" stroke-width="1.2" stroke-dasharray="9 4" />
<path d="M385.00 273.35L1272.00 273.35" stroke="#efefef" stroke-width="1.2" stroke-dasharray="9 4" />
<path d="M385.00 234.40L1272.00 234.40" stroke="#efefef" stroke-width="1.2" stroke-dasharray="9 4" />
<path d="M385.00 195.45L1272.00 195.45" stroke="#efefef" stroke-width="1.2" stroke-dasharray="9 4" />
<path d="M385.00 156.50L1272.00 156.50" stroke="#efefef" stroke-width="1.2" stroke-dasharray="9 4" />
<path d="M385.00 117.55L1272.00 117.55" stroke="#efefef" stroke-width="1.2" stroke-dasharray="9 4" />
<path d="M1272.00 429.15L1276.00 429.15" stroke="#e9e9e9" stroke-width="1" />
<path d="M1272.00 416.17L1276.00 416.17" stroke="#e9e9e9" stroke-width="1" />
<path d="M1272.00 403.18L1276.00 403.18" stroke="#e9e9e9" stroke-width="1" />
<path d="M1272.00 390.20L1276.00 390.20" stroke="#e9e9e9" stroke-width="1" />
<path d="M1272.00 377.22L1276.00 377.22" stroke="#e9e9e9" stroke-width="1" />
<path d="M1272.00 364.23L1276.00 364.23" stroke="#e9e9e9" stroke-width="1" />
<path d="M1272.00 351.25L1276.00 351.25" stroke="#e9e9e9" stroke-width="1" />
<path d="M1272.00 338.27L1276.00 338.27" stroke="#e9e9e9" stroke-width="1" />
<path d="M1272.00 325.28L1276.00 325.28" stroke="#e9e9e9" stroke-width="1" />
<path d="M1272.00 312.30L1276.00 312.30" stroke="#e9e9e9" stroke-width="1" />
<path d="M1272.00 299.32L1276.00 299.32" stroke="#e9e9e9" stroke-width="1" />
<path d="M1272.00 286.33L1276.00 286.33" stroke="#e9e9e9" stroke-width="1" />
<path d="M1272.00 273.35L1276.00 273.35" stroke="#e9e9e9" stroke-width="1" />
<path d="M1272.00 260.37L1276.00 260.37" stroke="#e9e9e9" stroke-width="1" />
<path d="M1272.00 247.38L1276.00 247.38" stroke="#e9e9e9" stroke-width="1" />
<path d="M1272.00 234.40L1276.00 234.40" stroke="#e9e9e9" stroke-width="1" />
<path d="M1272.00 221.42L1276.00 221.42" stroke="#e9e9e9" stroke-width="1" />
<path d="M1272.00 208.43L1276.00 208.43" stroke="#e9e9e9" stroke-width="1" />
<path d="M1272.00 195.45L1276.00 195.45" stroke="#e9e9e9" stroke-width="1" />
<path d="M1272.00 182.47L1276.00 182.47" stroke="#e9e9e9" stroke-width="1" />
<path d="M1272.00 169.48L1276.00 169.48" stroke="#e9e9e9" stroke-width="1" />
<path d="M1272.00 156.50L1276.00 156.50" stroke="#e9e9e9" stroke-width="1" />
<path d="M1272.00 143.52L1276.00 143.52" stroke="#e9e9e9" stroke-width="1" />
<path d="M1272.00 130.53L1276.00 130.53" stroke="#e9e9e9" stroke-width="1" />
<path d="M1272.00 117.55L1276.00 117.55" stroke="#e9e9e9" stroke-width="1" />
<text x="1282.30" y="432.05" font-size="12.8" fill="#8c8c8c" text-anchor="start" >100.00</text>
<text x="1282.30" y="393.10" font-size="12.8" fill="#8c8c8c" text-anchor="start" >200.00</text>
<text x="1282.30" y="354.15" font-size="12.8" fill="#8c8c8c" text-anchor="start" >300.00</text>
<text x="1282.30" y="315.20" font-size="12.8" fill="#8c8c8c" text-anchor="start" >400.00</text>
<text x="1282.30" y="276.25" font-size="12.8" fill="#8c8c8c" text-anchor="start" >500.00</text>
<text x="1282.30" y="237.30" font-size="12.8" fill="#8c8c8c" text-anchor="start" >600.00</text>
<text x="1282.30" y="198.35" font-size="12.8" fill="#8c8c8c" text-anchor="start" >700.00</text>
<text x="1282.30" y="159.40" font-size="12.8" fill="#8c8c8c" text-anchor="start" >800.00</text>
<text x="1282.30" y="120.45" font-size="12.8" fill="#8c8c8c" text-anchor="start" >900.00</text>
<path d="M389.2 209.2L412.0 201.2L424.2 195.0L435.8 187.5L446.8 181.2L459.2 178.0L470.5 175.5L482.0 173.0L494.2 175.0L505.5 178.0L516.8 183.0L529.0 192.5L540.5 207.0L551.8 216.2L564.0 228.0L575.5 234.5L586.8 240.8L599.2 249.2L610.5 258.2L621.8 267.0L634.2 273.0L645.5 279.2L657.0 283.2L668.8 285.0L680.0 288.0L692.5 293.8L703.8 299.2L715.0 307.0L726.2 317.0L737.5 323.8L750.0 332.0L761.2 338.0L772.5 344.5L785.0 351.2L796.2 358.8L809.0 365.0L820.8 369.5L832.5 374.5L844.0 379.2L855.8 384.5L867.2 390.8L879.0 394.5L890.5 398.2L902.2 400.8L914.0 403.0L925.5 405.0L937.2 406.2L949.0 407.5L960.5 408.8L972.2 410.0L984.0 410.8L995.5 411.8L1007.2 413.2L1019.0 414.5L1019.0 414.3L1030.5 415.1L1042.4 415.8L1053.9 415.8L1065.6 413.2L1077.1 410.4L1088.8 408.2L1100.5 406.0L1112.2 404.3L1123.7 401.3L1135.5 399.5L1147.2 395.8L1158.9 394.5L1170.4 393.4L1182.1 391.3L1193.8 389.8L1205.3 388.2L1217.0 387.2L1228.7 386.5L1240.4 385.4L1251.9 385.4L1263.6 384.8L1265.8 384.8" stroke="#ff00ff" stroke-width="1.6" fill="none" stroke-linejoin="round"/>
<path d="M389.2 230.8L400.5 248.8L412.0 262.0L424.2 263.0L435.8 250.0L446.8 238.2L459.2 220.0L470.5 209.5L482.0 204.5L494.2 208.8L505.5 220.0L516.8 239.5L529.0 255.0L540.5 268.0L551.8 275.0L564.0 283.0L575.5 286.8L586.8 291.2L599.2 299.5L610.5 308.8L621.8 319.2L634.2 328.0L645.5 342.5L657.5 356.2L669.0 364.5L680.8 370.0L692.5 373.8L704.0 377.5L715.8 382.5L727.5 383.0L739.0 383.0L750.8 385.0L762.5 389.2L774.0 394.5L785.8 398.0L797.5 405.0L809.0 411.2L820.8 415.8L832.5 420.5L844.0 422.0L855.8 422.0L867.2 421.2L879.0 420.0L890.5 419.2L902.2 419.2L914.0 420.8L925.5 422.0L937.2 420.5L949.0 418.8L960.5 417.0L972.2 415.8L984.0 414.2L995.5 412.5L1007.2 410.5L1019.0 408.8L1030.5 407.8L1042.4 406.0L1053.9 402.1L1065.6 395.8L1077.1 390.8L1088.8 386.5L1100.5 383.3L1112.2 377.8L1123.7 370.2L1135.5 363.7L1147.2 361.1L1158.9 363.3L1170.4 364.4L1182.1 365.9L1193.8 368.1L1205.3 372.4L1217.0 378.5L1228.7 385.0L1240.4 388.7L1251.9 390.2L1263.6 393.0L1265.8 393.4" stroke="#ffb400" stroke-width="1.6" fill="none" stroke-linejoin="round"/>
<path d="M1147.8 319.7L1168.2 319.7L1182.1 320.8L1205.3 320.8L1217.0 321.0L1228.7 321.9L1240.4 322.1L1251.9 323.2L1265.8 323.2" stroke="#d00078" stroke-width="1.6" fill="none" stroke-linejoin="round"/>
<path d="M389.30 306.25V327.00" stroke="#70a800" stroke-width="1.5"/>
<rect x="384.80" y="310.95" width="9.0" height="10.10" fill="#a9cc66"/>
<rect x="385.70" y="311.25" width="7.2" height="9.50" fill="#70a800"/>
<path d="M400.98 260.00V316.75" stroke="#70a800" stroke-width="1.5"/>
<rect x="396.48" y="259.70" width="9.0" height="52.60" fill="#a9cc66"/>
<rect x="397.38" y="260.00" width="7.2" height="52.00" fill="#70a800"/>
<path d="M412.65 218.75V274.25" stroke="#70a800" stroke-width="1.5"/>
<rect x="408.15" y="225.95" width="9.0" height="34.85" fill="#a9cc66"/>
<rect x="409.05" y="226.25" width="7.2" height="34.25" fill="#70a800"/>
<path d="M424.33 191.25V236.75" stroke="#70a800" stroke-width="1.5"/>
<rect x="419.83" y="198.95" width="9.0" height="28.85" fill="#a9cc66"/>
<rect x="420.73" y="199.25" width="7.2" height="28.25" fill="#70a800"/>
<path d="M436.00 142.00V224.50" stroke="#70a800" stroke-width="1.5"/>
<rect x="431.50" y="158.45" width="9.0" height="41.35" fill="#a9cc66"/>
<rect x="432.40" y="158.75" width="7.2" height="40.75" fill="#70a800"/>
<path d="M447.68 157.00V222.00" stroke="#ea0070" stroke-width="1.5"/>
<rect x="443.18" y="158.45" width="9.0" height="26.10" fill="#f366a9"/>
<rect x="444.07" y="158.75" width="7.2" height="25.50" fill="#ea0070"/>
<path d="M459.35 179.25V213.25" stroke="#ea0070" stroke-width="1.5"/>
<rect x="454.85" y="183.95" width="9.0" height="5.85" fill="#f366a9"/>
<rect x="455.75" y="184.25" width="7.2" height="5.25" fill="#ea0070"/>
<path d="M471.03 188.75V254.50" stroke="#ea0070" stroke-width="1.5"/>
<rect x="466.53" y="188.45" width="9.0" height="57.60" fill="#f366a9"/>
<rect x="467.43" y="188.75" width="7.2" height="57.00" fill="#ea0070"/>
<path d="M482.70 223.25V270.75" stroke="#70a800" stroke-width="1.5"/>
<rect x="478.20" y="225.95" width="9.0" height="20.10" fill="#a9cc66"/>
<rect x="479.10" y="226.25" width="7.2" height="19.50" fill="#70a800"/>
<path d="M494.38 224.50V273.25" stroke="#ea0070" stroke-width="1.5"/>
<rect x="489.88" y="225.95" width="9.0" height="38.85" fill="#f366a9"/>
<rect x="490.77" y="226.25" width="7.2" height="38.25" fill="#ea0070"/>
<path d="M506.05 258.25V293.25" stroke="#ea0070" stroke-width="1.5"/>
<rect x="501.55" y="263.45" width="9.0" height="11.35" fill="#f366a9"/>
<rect x="502.45" y="263.75" width="7.2" height="10.75" fill="#ea0070"/>
<path d="M517.73 255.00V304.50" stroke="#ea0070" stroke-width="1.5"/>
<rect x="513.23" y="273.45" width="9.0" height="18.85" fill="#f366a9"/>
<rect x="514.12" y="273.75" width="7.2" height="18.25" fill="#ea0070"/>
<path d="M529.40 283.25V310.75" stroke="#ea0070" stroke-width="1.5"/>
<rect x="524.90" y="290.45" width="9.0" height="2.35" fill="#f366a9"/>
<rect x="525.80" y="290.75" width="7.2" height="1.75" fill="#ea0070"/>
<path d="M541.08 275.50V295.75" stroke="#70a800" stroke-width="1.5"/>
<rect x="536.58" y="277.20" width="9.0" height="15.10" fill="#a9cc66"/>
<rect x="537.48" y="277.50" width="7.2" height="14.50" fill="#70a800"/>
<path d="M552.75 278.75V305.75" stroke="#ea0070" stroke-width="1.5"/>
<rect x="548.25" y="278.45" width="9.0" height="14.85" fill="#f366a9"/>
<rect x="549.15" y="278.75" width="7.2" height="14.25" fill="#ea0070"/>
<path d="M564.42 268.25V297.00" stroke="#70a800" stroke-width="1.5"/>
<rect x="559.92" y="289.70" width="9.0" height="3.85" fill="#a9cc66"/>
<rect x="560.82" y="290.00" width="7.2" height="3.25" fill="#70a800"/>
<path d="M576.10 279.50V294.50" stroke="#70a800" stroke-width="1.5"/>
<rect x="571.60" y="285.95" width="9.0" height="5.10" fill="#a9cc66"/>
<rect x="572.50" y="286.25" width="7.2" height="4.50" fill="#70a800"/>
<path d="M587.78 286.25V314.50" stroke="#ea0070" stroke-width="1.5"/>
<rect x="583.28" y="285.95" width="9.0" height="23.60" fill="#f366a9"/>
<rect x="584.18" y="286.25" width="7.2" height="23.00" fill="#ea0070"/>
<path d="M599.45 307.00V349.25" stroke="#ea0070" stroke-width="1.5"/>
<rect x="594.95" y="308.45" width="9.0" height="36.10" fill="#f366a9"/>
<rect x="595.85" y="308.75" width="7.2" height="35.50" fill="#ea0070"/>
<path d="M611.12 344.25V370.75" stroke="#ea0070" stroke-width="1.5"/>
<rect x="606.62" y="343.95" width="9.0" height="8.85" fill="#f366a9"/>
<rect x="607.52" y="344.25" width="7.2" height="8.25" fill="#ea0070"/>
<path d="M622.80 350.00V367.00" stroke="#ea0070" stroke-width="1.5"/>
<rect x="618.30" y="350.95" width="9.0" height="11.35" fill="#f366a9"/>
<rect x="619.20" y="351.25" width="7.2" height="10.75" fill="#ea0070"/>
<path d="M634.48 351.25V362.50" stroke="#70a800" stroke-width="1.5"/>
<rect x="629.98" y="352.20" width="9.0" height="10.60" fill="#a9cc66"/>
<rect x="630.88" y="352.50" width="7.2" height="10.00" fill="#70a800"/>
<path d="M646.15 352.50V395.75" stroke="#ea0070" stroke-width="1.5"/>
<rect x="641.65" y="352.20" width="9.0" height="39.85" fill="#f366a9"/>
<rect x="642.55" y="352.50" width="7.2" height="39.25" fill="#ea0070"/>
<path d="M657.83 379.50V403.25" stroke="#70a800" stroke-width="1.5"/>
<rect x="653.33" y="380.95" width="9.0" height="11.35" fill="#a9cc66"/>
<rect x="654.23" y="381.25" width="7.2" height="10.75" fill="#70a800"/>
<path d="M669.50 369.50V393.25" stroke="#70a800" stroke-width="1.5"/>
<rect x="665.00" y="372.70" width="9.0" height="10.10" fill="#a9cc66"/>
<rect x="665.90" y="373.00" width="7.2" height="9.50" fill="#70a800"/>
<path d="M681.17 371.25V389.50" stroke="#ea0070" stroke-width="1.5"/>
<rect x="676.67" y="372.70" width="9.0" height="5.10" fill="#f366a9"/>
<rect x="677.57" y="373.00" width="7.2" height="4.50" fill="#ea0070"/>
<path d="M692.85 376.25V384.50" stroke="#ea0070" stroke-width="1.5"/>
<rect x="688.35" y="375.95" width="9.0" height="5.10" fill="#f366a9"/>
<rect x="689.25" y="376.25" width="7.2" height="4.50" fill="#ea0070"/>
<path d="M704.53 378.75V394.50" stroke="#ea0070" stroke-width="1.5"/>
<rect x="700.03" y="379.70" width="9.0" height="12.60" fill="#f366a9"/>
<rect x="700.93" y="380.00" width="7.2" height="12.00" fill="#ea0070"/>
<path d="M716.20 375.75V392.50" stroke="#70a800" stroke-width="1.5"/>
<rect x="711.70" y="385.95" width="9.0" height="6.85" fill="#a9cc66"/>
<rect x="712.60" y="386.25" width="7.2" height="6.25" fill="#70a800"/>
<path d="M727.88 386.25V389.25" stroke="#ea0070" stroke-width="1.5"/>
<rect x="723.38" y="385.95" width="9.0" height="3.10" fill="#f366a9"/>
<rect x="724.27" y="386.25" width="7.2" height="2.50" fill="#ea0070"/>
<path d="M739.55 383.75V393.25" stroke="#70a800" stroke-width="1.5"/>
<rect x="735.05" y="384.70" width="9.0" height="4.35" fill="#a9cc66"/>
<rect x="735.95" y="385.00" width="7.2" height="3.75" fill="#70a800"/>
<path d="M751.23 380.75V387.00" stroke="#70a800" stroke-width="1.5"/>
<rect x="746.73" y="384.20" width="9.0" height="2.35" fill="#a9cc66"/>
<rect x="747.62" y="384.50" width="7.2" height="1.75" fill="#70a800"/>
<path d="M762.90 385.00V402.00" stroke="#ea0070" stroke-width="1.5"/>
<rect x="758.40" y="384.70" width="9.0" height="13.85" fill="#f366a9"/>
<rect x="759.30" y="385.00" width="7.2" height="13.25" fill="#ea0070"/>
<path d="M774.58 397.50V428.00" stroke="#ea0070" stroke-width="1.5"/>
<rect x="770.08" y="397.20" width="9.0" height="25.10" fill="#f366a9"/>
<rect x="770.98" y="397.50" width="7.2" height="24.50" fill="#ea0070"/>
<path d="M786.25 418.25V428.00" stroke="#ea0070" stroke-width="1.5"/>
<rect x="781.75" y="420.95" width="9.0" height="3.60" fill="#f366a9"/>
<rect x="782.65" y="421.25" width="7.2" height="3.00" fill="#ea0070"/>
<path d="M797.92 422.50V433.00" stroke="#ea0070" stroke-width="1.5"/>
<rect x="793.42" y="422.20" width="9.0" height="8.85" fill="#f366a9"/>
<rect x="794.32" y="422.50" width="7.2" height="8.25" fill="#ea0070"/>
<path d="M809.60 431.25V436.25" stroke="#ea0070" stroke-width="1.5"/>
<rect x="805.10" y="430.95" width="9.0" height="4.85" fill="#f366a9"/>
<rect x="806.00" y="431.25" width="7.2" height="4.25" fill="#ea0070"/>
<path d="M821.28 417.50V436.25" stroke="#70a800" stroke-width="1.5"/>
<rect x="816.78" y="417.20" width="9.0" height="19.35" fill="#a9cc66"/>
<rect x="817.68" y="417.50" width="7.2" height="18.75" fill="#70a800"/>
<path d="M832.95 407.00V424.50" stroke="#70a800" stroke-width="1.5"/>
<rect x="828.45" y="413.95" width="9.0" height="5.10" fill="#a9cc66"/>
<rect x="829.35" y="414.25" width="7.2" height="4.50" fill="#70a800"/>
<path d="M844.62 405.75V418.25" stroke="#70a800" stroke-width="1.5"/>
<rect x="840.12" y="407.20" width="9.0" height="8.10" fill="#a9cc66"/>
<rect x="841.02" y="407.50" width="7.2" height="7.50" fill="#70a800"/>
<path d="M856.30 407.50V424.50" stroke="#ea0070" stroke-width="1.5"/>
<rect x="851.80" y="407.20" width="9.0" height="16.35" fill="#f366a9"/>
<rect x="852.70" y="407.50" width="7.2" height="15.75" fill="#ea0070"/>
<path d="M867.98 417.00V423.75" stroke="#70a800" stroke-width="1.5"/>
<rect x="863.48" y="420.45" width="9.0" height="3.60" fill="#a9cc66"/>
<rect x="864.38" y="420.75" width="7.2" height="3.00" fill="#70a800"/>
<path d="M879.65 420.75V425.00" stroke="#ea0070" stroke-width="1.5"/>
<rect x="875.15" y="420.45" width="9.0" height="4.35" fill="#f366a9"/>
<rect x="876.05" y="420.75" width="7.2" height="3.75" fill="#ea0070"/>
<path d="M891.33 423.75V430.00" stroke="#ea0070" stroke-width="1.5"/>
<rect x="886.83" y="423.45" width="9.0" height="4.35" fill="#f366a9"/>
<rect x="887.73" y="423.75" width="7.2" height="3.75" fill="#ea0070"/>
<path d="M903.00 418.75V428.00" stroke="#70a800" stroke-width="1.5"/>
<rect x="898.50" y="418.45" width="9.0" height="9.35" fill="#a9cc66"/>
<rect x="899.40" y="418.75" width="7.2" height="8.75" fill="#70a800"/>
<path d="M914.67 415.00V422.00" stroke="#70a800" stroke-width="1.5"/>
<rect x="910.17" y="414.70" width="9.0" height="5.60" fill="#a9cc66"/>
<rect x="911.07" y="415.00" width="7.2" height="5.00" fill="#70a800"/>
<path d="M926.35 403.25V417.50" stroke="#ea0070" stroke-width="1.5"/>
<rect x="921.85" y="414.70" width="9.0" height="3.10" fill="#f366a9"/>
<rect x="922.75" y="415.00" width="7.2" height="2.50" fill="#ea0070"/>
<path d="M938.03 413.25V418.75" stroke="#ea0070" stroke-width="1.5"/>
<rect x="933.53" y="415.95" width="9.0" height="2.35" fill="#f366a9"/>
<rect x="934.43" y="416.25" width="7.2" height="1.75" fill="#ea0070"/>
<path d="M949.70 413.75V420.50" stroke="#70a800" stroke-width="1.5"/>
<rect x="945.20" y="414.70" width="9.0" height="3.60" fill="#a9cc66"/>
<rect x="946.10" y="415.00" width="7.2" height="3.00" fill="#70a800"/>
<path d="M961.38 411.75V418.75" stroke="#70a800" stroke-width="1.5"/>
<rect x="956.88" y="413.95" width="9.0" height="3.35" fill="#a9cc66"/>
<rect x="957.77" y="414.25" width="7.2" height="2.75" fill="#70a800"/>
<path d="M973.05 414.25V417.00" stroke="#ea0070" stroke-width="1.5"/>
<rect x="968.55" y="413.95" width="9.0" height="2.60" fill="#f366a9"/>
<rect x="969.45" y="414.25" width="7.2" height="2.00" fill="#ea0070"/>
<path d="M984.73 412.50V416.75" stroke="#70a800" stroke-width="1.5"/>
<rect x="980.23" y="412.20" width="9.0" height="4.85" fill="#a9cc66"/>
<rect x="981.13" y="412.50" width="7.2" height="4.25" fill="#70a800"/>
<path d="M996.40 400.20V414.50" stroke="#70a800" stroke-width="1.5"/>
<rect x="991.90" y="399.90" width="9.0" height="14.20" fill="#a9cc66"/>
<rect x="992.80" y="400.20" width="7.2" height="13.60" fill="#70a800"/>
<path d="M1008.08 396.30V407.10" stroke="#ea0070" stroke-width="1.5"/>
<rect x="1003.58" y="399.90" width="9.0" height="4.30" fill="#f366a9"/>
<rect x="1004.48" y="400.20" width="7.2" height="3.70" fill="#ea0070"/>
<path d="M1019.75 400.20V407.10" stroke="#70a800" stroke-width="1.5"/>
<rect x="1015.25" y="401.00" width="9.0" height="3.20" fill="#a9cc66"/>
<rect x="1016.15" y="401.30" width="7.2" height="2.60" fill="#70a800"/>
<path d="M1031.42 400.20V409.30" stroke="#ea0070" stroke-width="1.5"/>
<rect x="1026.92" y="401.00" width="9.0" height="7.10" fill="#f366a9"/>
<rect x="1027.83" y="401.30" width="7.2" height="6.50" fill="#ea0070"/>
<path d="M1043.10 402.80V409.70" stroke="#70a800" stroke-width="1.5"/>
<rect x="1038.60" y="404.00" width="9.0" height="4.10" fill="#a9cc66"/>
<rect x="1039.50" y="404.30" width="7.2" height="3.50" fill="#70a800"/>
<path d="M1054.78 388.70V407.10" stroke="#70a800" stroke-width="1.5"/>
<rect x="1050.28" y="393.80" width="9.0" height="11.40" fill="#a9cc66"/>
<rect x="1051.18" y="394.10" width="7.2" height="10.80" fill="#70a800"/>
<path d="M1066.45 359.80V395.20" stroke="#70a800" stroke-width="1.5"/>
<rect x="1061.95" y="366.00" width="9.0" height="29.50" fill="#a9cc66"/>
<rect x="1062.85" y="366.30" width="7.2" height="28.90" fill="#70a800"/>
<path d="M1078.12 363.30V378.30" stroke="#70a800" stroke-width="1.5"/>
<rect x="1073.62" y="364.50" width="9.0" height="3.40" fill="#a9cc66"/>
<rect x="1074.53" y="364.80" width="7.2" height="2.80" fill="#70a800"/>
<path d="M1089.80 356.10V374.60" stroke="#70a800" stroke-width="1.5"/>
<rect x="1085.30" y="362.80" width="9.0" height="3.40" fill="#a9cc66"/>
<rect x="1086.20" y="363.10" width="7.2" height="2.80" fill="#70a800"/>
<path d="M1101.48 362.70V379.60" stroke="#ea0070" stroke-width="1.5"/>
<rect x="1096.98" y="362.40" width="9.0" height="16.40" fill="#f366a9"/>
<rect x="1097.88" y="362.70" width="7.2" height="15.80" fill="#ea0070"/>
<path d="M1113.15 361.10V379.40" stroke="#70a800" stroke-width="1.5"/>
<rect x="1108.65" y="363.90" width="9.0" height="14.90" fill="#a9cc66"/>
<rect x="1109.55" y="364.20" width="7.2" height="14.30" fill="#70a800"/>
<path d="M1124.83 343.10V367.00" stroke="#70a800" stroke-width="1.5"/>
<rect x="1120.33" y="347.60" width="9.0" height="17.50" fill="#a9cc66"/>
<rect x="1121.23" y="347.90" width="7.2" height="16.90" fill="#70a800"/>
<path d="M1136.50 326.20V359.80" stroke="#ea0070" stroke-width="1.5"/>
<rect x="1132.00" y="347.60" width="9.0" height="7.30" fill="#f366a9"/>
<rect x="1132.90" y="347.90" width="7.2" height="6.70" fill="#ea0070"/>
<path d="M1148.17 349.00V361.60" stroke="#70a800" stroke-width="1.5"/>
<rect x="1143.67" y="348.70" width="9.0" height="6.20" fill="#a9cc66"/>
<rect x="1144.58" y="349.00" width="7.2" height="5.60" fill="#70a800"/>
<path d="M1159.85 345.30V381.70" stroke="#ea0070" stroke-width="1.5"/>
<rect x="1155.35" y="348.70" width="9.0" height="32.70" fill="#f366a9"/>
<rect x="1156.25" y="349.00" width="7.2" height="32.10" fill="#ea0070"/>
<path d="M1171.53 377.40V393.00" stroke="#ea0070" stroke-width="1.5"/>
<rect x="1167.03" y="379.70" width="9.0" height="1.80" fill="#f366a9"/>
<rect x="1167.93" y="380.00" width="7.2" height="1.20" fill="#ea0070"/>
<path d="M1183.20 380.40V389.80" stroke="#ea0070" stroke-width="1.5"/>
<rect x="1178.70" y="380.10" width="9.0" height="6.10" fill="#f366a9"/>
<rect x="1179.60" y="380.40" width="7.2" height="5.50" fill="#ea0070"/>
<path d="M1194.88 381.50V387.60" stroke="#70a800" stroke-width="1.5"/>
<rect x="1190.38" y="381.20" width="9.0" height="5.00" fill="#a9cc66"/>
<rect x="1191.28" y="381.50" width="7.2" height="4.40" fill="#70a800"/>
<path d="M1206.55 376.10V389.80" stroke="#ea0070" stroke-width="1.5"/>
<rect x="1202.05" y="381.20" width="9.0" height="3.90" fill="#f366a9"/>
<rect x="1202.95" y="381.50" width="7.2" height="3.30" fill="#ea0070"/>
<path d="M1218.23 384.30V399.50" stroke="#ea0070" stroke-width="1.5"/>
<rect x="1213.73" y="384.00" width="9.0" height="8.20" fill="#f366a9"/>
<rect x="1214.63" y="384.30" width="7.2" height="7.60" fill="#ea0070"/>
<path d="M1229.90 390.20V398.00" stroke="#ea0070" stroke-width="1.5"/>
<rect x="1225.40" y="391.00" width="9.0" height="5.10" fill="#f366a9"/>
<rect x="1226.30" y="391.30" width="7.2" height="4.50" fill="#ea0070"/>
<path d="M1241.58 393.70V404.50" stroke="#ea0070" stroke-width="1.5"/>
<rect x="1237.08" y="394.90" width="9.0" height="7.70" fill="#f366a9"/>
<rect x="1237.98" y="395.20" width="7.2" height="7.10" fill="#ea0070"/>
<path d="M1253.25 397.80V404.50" stroke="#70a800" stroke-width="1.5"/>
<rect x="1248.75" y="397.50" width="9.0" height="5.10" fill="#a9cc66"/>
<rect x="1249.65" y="397.80" width="7.2" height="4.50" fill="#70a800"/>
<path d="M1264.92 396.30V399.60" stroke="#ea0070" stroke-width="1.5"/>
<rect x="1260.92" y="397.20" width="8" height="1.80" fill="#f366a9"/>
<rect x="1261.83" y="397.50" width="6.2" height="1.20" fill="#ea0070"/>
<path d="M453.5 141.5H437.5M446.5 135.8L437.3 141.5L446.5 147.2" stroke="#333" stroke-width="1.3" fill="none"/>
<text x="458.50" y="144.60" font-size="12.9" fill="#4a4a4a" text-anchor="start" >839.99</text>
<text x="736.30" y="438.90" font-size="12.9" fill="#4a4a4a" text-anchor="start" >81.79</text>
<path d="M790.5 435H805.5M797 429.5L806 435L795.5 442" stroke="#333" stroke-width="1.3" fill="none"/>
<rect x="384.80" y="532.90" width="9.0" height="9.80" fill="#a9cc66"/>
<rect x="385.70" y="533.20" width="7.2" height="9.50" fill="#70a800"/>
<rect x="396.48" y="529.15" width="9.0" height="13.55" fill="#a9cc66"/>
<rect x="397.38" y="529.45" width="7.2" height="13.25" fill="#70a800"/>
<rect x="408.15" y="531.65" width="9.0" height="11.05" fill="#a9cc66"/>
<rect x="409.05" y="531.95" width="7.2" height="10.75" fill="#70a800"/>
<rect x="419.83" y="529.15" width="9.0" height="13.55" fill="#a9cc66"/>
<rect x="420.73" y="529.45" width="7.2" height="13.25" fill="#70a800"/>
<rect x="431.50" y="529.15" width="9.0" height="13.55" fill="#a9cc66"/>
<rect x="432.40" y="529.45" width="7.2" height="13.25" fill="#70a800"/>
<rect x="443.18" y="527.90" width="9.0" height="14.80" fill="#f366a9"/>
<rect x="444.07" y="528.20" width="7.2" height="14.50" fill="#ea0070"/>
<rect x="454.85" y="531.65" width="9.0" height="11.05" fill="#f366a9"/>
<rect x="455.75" y="531.95" width="7.2" height="10.75" fill="#ea0070"/>
<rect x="466.53" y="530.40" width="9.0" height="12.30" fill="#f366a9"/>
<rect x="467.43" y="530.70" width="7.2" height="12.00" fill="#ea0070"/>
<rect x="478.20" y="531.65" width="9.0" height="11.05" fill="#a9cc66"/>
<rect x="479.10" y="531.95" width="7.2" height="10.75" fill="#70a800"/>
<rect x="489.88" y="535.40" width="9.0" height="7.30" fill="#f366a9"/>
<rect x="490.77" y="535.70" width="7.2" height="7.00" fill="#ea0070"/>
<rect x="501.55" y="529.15" width="9.0" height="13.55" fill="#f366a9"/>
<rect x="502.45" y="529.45" width="7.2" height="13.25" fill="#ea0070"/>
<rect x="513.23" y="530.40" width="9.0" height="12.30" fill="#f366a9"/>
<rect x="514.12" y="530.70" width="7.2" height="12.00" fill="#ea0070"/>
<rect x="524.90" y="531.65" width="9.0" height="11.05" fill="#f366a9"/>
<rect x="525.80" y="531.95" width="7.2" height="10.75" fill="#ea0070"/>
<rect x="536.58" y="530.40" width="9.0" height="12.30" fill="#a9cc66"/>
<rect x="537.48" y="530.70" width="7.2" height="12.00" fill="#70a800"/>
<rect x="548.25" y="529.15" width="9.0" height="13.55" fill="#f366a9"/>
<rect x="549.15" y="529.45" width="7.2" height="13.25" fill="#ea0070"/>
<rect x="559.92" y="529.15" width="9.0" height="13.55" fill="#a9cc66"/>
<rect x="560.82" y="529.45" width="7.2" height="13.25" fill="#70a800"/>
<rect x="571.60" y="529.15" width="9.0" height="13.55" fill="#a9cc66"/>
<rect x="572.50" y="529.45" width="7.2" height="13.25" fill="#70a800"/>
<rect x="583.28" y="525.40" width="9.0" height="17.30" fill="#f366a9"/>
<rect x="584.18" y="525.70" width="7.2" height="17.00" fill="#ea0070"/>
<rect x="594.95" y="521.65" width="9.0" height="21.05" fill="#f366a9"/>
<rect x="595.85" y="521.95" width="7.2" height="20.75" fill="#ea0070"/>
<rect x="606.62" y="511.65" width="9.0" height="31.05" fill="#f366a9"/>
<rect x="607.52" y="511.95" width="7.2" height="30.75" fill="#ea0070"/>
<rect x="618.30" y="519.15" width="9.0" height="23.55" fill="#f366a9"/>
<rect x="619.20" y="519.45" width="7.2" height="23.25" fill="#ea0070"/>
<rect x="629.98" y="517.90" width="9.0" height="24.80" fill="#a9cc66"/>
<rect x="630.88" y="518.20" width="7.2" height="24.50" fill="#70a800"/>
<rect x="641.65" y="506.65" width="9.0" height="36.05" fill="#f366a9"/>
<rect x="642.55" y="506.95" width="7.2" height="35.75" fill="#ea0070"/>
<rect x="653.33" y="494.15" width="9.0" height="48.55" fill="#a9cc66"/>
<rect x="654.23" y="494.45" width="7.2" height="48.25" fill="#70a800"/>
<rect x="665.00" y="492.90" width="9.0" height="49.80" fill="#a9cc66"/>
<rect x="665.90" y="493.20" width="7.2" height="49.50" fill="#70a800"/>
<rect x="676.67" y="494.15" width="9.0" height="48.55" fill="#f366a9"/>
<rect x="677.57" y="494.45" width="7.2" height="48.25" fill="#ea0070"/>
<rect x="688.35" y="524.15" width="9.0" height="18.55" fill="#f366a9"/>
<rect x="689.25" y="524.45" width="7.2" height="18.25" fill="#ea0070"/>
<rect x="700.03" y="525.40" width="9.0" height="17.30" fill="#f366a9"/>
<rect x="700.93" y="525.70" width="7.2" height="17.00" fill="#ea0070"/>
<rect x="711.70" y="519.15" width="9.0" height="23.55" fill="#a9cc66"/>
<rect x="712.60" y="519.45" width="7.2" height="23.25" fill="#70a800"/>
<rect x="723.38" y="534.15" width="9.0" height="8.55" fill="#f366a9"/>
<rect x="724.27" y="534.45" width="7.2" height="8.25" fill="#ea0070"/>
<rect x="735.05" y="532.90" width="9.0" height="9.80" fill="#a9cc66"/>
<rect x="735.95" y="533.20" width="7.2" height="9.50" fill="#70a800"/>
<rect x="746.73" y="527.90" width="9.0" height="14.80" fill="#a9cc66"/>
<rect x="747.62" y="528.20" width="7.2" height="14.50" fill="#70a800"/>
<rect x="758.40" y="521.65" width="9.0" height="21.05" fill="#f366a9"/>
<rect x="759.30" y="521.95" width="7.2" height="20.75" fill="#ea0070"/>
<rect x="770.08" y="486.65" width="9.0" height="56.05" fill="#f366a9"/>
<rect x="770.98" y="486.95" width="7.2" height="55.75" fill="#ea0070"/>
<rect x="781.75" y="501.65" width="9.0" height="41.05" fill="#f366a9"/>
<rect x="782.65" y="501.95" width="7.2" height="40.75" fill="#ea0070"/>
<rect x="793.42" y="495.40" width="9.0" height="47.30" fill="#f366a9"/>
<rect x="794.32" y="495.70" width="7.2" height="47.00" fill="#ea0070"/>
<rect x="805.10" y="515.40" width="9.0" height="27.30" fill="#f366a9"/>
<rect x="806.00" y="515.70" width="7.2" height="27.00" fill="#ea0070"/>
<rect x="816.78" y="484.15" width="9.0" height="58.55" fill="#a9cc66"/>
<rect x="817.68" y="484.45" width="7.2" height="58.25" fill="#70a800"/>
<rect x="828.45" y="461.65" width="9.0" height="81.05" fill="#a9cc66"/>
<rect x="829.35" y="461.95" width="7.2" height="80.75" fill="#70a800"/>
<rect x="840.12" y="484.15" width="9.0" height="58.55" fill="#a9cc66"/>
<rect x="841.02" y="484.45" width="7.2" height="58.25" fill="#70a800"/>
<rect x="851.80" y="501.65" width="9.0" height="41.05" fill="#f366a9"/>
<rect x="852.70" y="501.95" width="7.2" height="40.75" fill="#ea0070"/>
<rect x="863.48" y="502.90" width="9.0" height="39.80" fill="#a9cc66"/>
<rect x="864.38" y="503.20" width="7.2" height="39.50" fill="#70a800"/>
<rect x="875.15" y="521.65" width="9.0" height="21.05" fill="#f366a9"/>
<rect x="876.05" y="521.95" width="7.2" height="20.75" fill="#ea0070"/>
<rect x="886.83" y="515.40" width="9.0" height="27.30" fill="#f366a9"/>
<rect x="887.73" y="515.70" width="7.2" height="27.00" fill="#ea0070"/>
<rect x="898.50" y="516.65" width="9.0" height="26.05" fill="#a9cc66"/>
<rect x="899.40" y="516.95" width="7.2" height="25.75" fill="#70a800"/>
<rect x="910.17" y="511.65" width="9.0" height="31.05" fill="#a9cc66"/>
<rect x="911.07" y="511.95" width="7.2" height="30.75" fill="#70a800"/>
<rect x="921.85" y="479.15" width="9.0" height="63.55" fill="#f366a9"/>
<rect x="922.75" y="479.45" width="7.2" height="63.25" fill="#ea0070"/>
<rect x="933.53" y="502.90" width="9.0" height="39.80" fill="#f366a9"/>
<rect x="934.43" y="503.20" width="7.2" height="39.50" fill="#ea0070"/>
<rect x="945.20" y="511.65" width="9.0" height="31.05" fill="#a9cc66"/>
<rect x="946.10" y="511.95" width="7.2" height="30.75" fill="#70a800"/>
<rect x="956.88" y="517.90" width="9.0" height="24.80" fill="#a9cc66"/>
<rect x="957.77" y="518.20" width="7.2" height="24.50" fill="#70a800"/>
<rect x="968.55" y="522.90" width="9.0" height="19.80" fill="#f366a9"/>
<rect x="969.45" y="523.20" width="7.2" height="19.50" fill="#ea0070"/>
<rect x="980.23" y="522.90" width="9.0" height="19.80" fill="#a9cc66"/>
<rect x="981.13" y="523.20" width="7.2" height="19.50" fill="#70a800"/>
<rect x="991.90" y="484.15" width="9.0" height="58.55" fill="#a9cc66"/>
<rect x="992.80" y="484.45" width="7.2" height="58.25" fill="#70a800"/>
<rect x="1003.58" y="502.90" width="9.0" height="39.80" fill="#f366a9"/>
<rect x="1004.48" y="503.20" width="7.2" height="39.50" fill="#ea0070"/>
<rect x="1015.25" y="516.65" width="9.0" height="26.05" fill="#a9cc66"/>
<rect x="1016.15" y="516.95" width="7.2" height="25.75" fill="#70a800"/>
<rect x="1026.92" y="512.90" width="9.0" height="29.80" fill="#f366a9"/>
<rect x="1027.83" y="513.20" width="7.2" height="29.50" fill="#ea0070"/>
<rect x="1038.60" y="517.90" width="9.0" height="24.80" fill="#a9cc66"/>
<rect x="1039.50" y="518.20" width="7.2" height="24.50" fill="#70a800"/>
<rect x="1050.28" y="492.90" width="9.0" height="49.80" fill="#a9cc66"/>
<rect x="1051.18" y="493.20" width="7.2" height="49.50" fill="#70a800"/>
<rect x="1061.95" y="456.65" width="9.0" height="86.05" fill="#a9cc66"/>
<rect x="1062.85" y="456.95" width="7.2" height="85.75" fill="#70a800"/>
<rect x="1073.62" y="496.65" width="9.0" height="46.05" fill="#a9cc66"/>
<rect x="1074.53" y="496.95" width="7.2" height="45.75" fill="#70a800"/>
<rect x="1085.30" y="494.15" width="9.0" height="48.55" fill="#a9cc66"/>
<rect x="1086.20" y="494.45" width="7.2" height="48.25" fill="#70a800"/>
<rect x="1096.98" y="511.65" width="9.0" height="31.05" fill="#f366a9"/>
<rect x="1097.88" y="511.95" width="7.2" height="30.75" fill="#ea0070"/>
<rect x="1108.65" y="514.15" width="9.0" height="28.55" fill="#a9cc66"/>
<rect x="1109.55" y="514.45" width="7.2" height="28.25" fill="#70a800"/>
<rect x="1120.33" y="507.90" width="9.0" height="34.80" fill="#a9cc66"/>
<rect x="1121.23" y="508.20" width="7.2" height="34.50" fill="#70a800"/>
<rect x="1132.00" y="490.40" width="9.0" height="52.30" fill="#f366a9"/>
<rect x="1132.90" y="490.70" width="7.2" height="52.00" fill="#ea0070"/>
<rect x="1143.67" y="512.90" width="9.0" height="29.80" fill="#a9cc66"/>
<rect x="1144.58" y="513.20" width="7.2" height="29.50" fill="#70a800"/>
<rect x="1155.35" y="510.40" width="9.0" height="32.30" fill="#f366a9"/>
<rect x="1156.25" y="510.70" width="7.2" height="32.00" fill="#ea0070"/>
<rect x="1167.03" y="496.65" width="9.0" height="46.05" fill="#f366a9"/>
<rect x="1167.93" y="496.95" width="7.2" height="45.75" fill="#ea0070"/>
<rect x="1178.70" y="519.15" width="9.0" height="23.55" fill="#f366a9"/>
<rect x="1179.60" y="519.45" width="7.2" height="23.25" fill="#ea0070"/>
<rect x="1190.38" y="525.40" width="9.0" height="17.30" fill="#a9cc66"/>
<rect x="1191.28" y="525.70" width="7.2" height="17.00" fill="#70a800"/>
<rect x="1202.05" y="519.15" width="9.0" height="23.55" fill="#f366a9"/>
<rect x="1202.95" y="519.45" width="7.2" height="23.25" fill="#ea0070"/>
<rect x="1213.73" y="524.15" width="9.0" height="18.55" fill="#f366a9"/>
<rect x="1214.63" y="524.45" width="7.2" height="18.25" fill="#ea0070"/>
<rect x="1225.40" y="524.10" width="9.0" height="18.60" fill="#f366a9"/>
<rect x="1226.30" y="524.40" width="7.2" height="18.30" fill="#ea0070"/>
<rect x="1237.08" y="521.40" width="9.0" height="21.30" fill="#f366a9"/>
<rect x="1237.98" y="521.70" width="7.2" height="21.00" fill="#ea0070"/>
<rect x="1248.75" y="518.00" width="9.0" height="24.70" fill="#a9cc66"/>
<rect x="1249.65" y="518.30" width="7.2" height="24.40" fill="#70a800"/>
<rect x="1260.42" y="535.40" width="9.0" height="7.30" fill="#f366a9"/>
<rect x="1261.33" y="535.70" width="7.2" height="7.00" fill="#ea0070"/>
<rect x="385.30" y="572.00" width="8.0" height="49.25" fill="#ea0070"/>
<rect x="396.98" y="572.00" width="8.0" height="44.25" fill="#ea0070"/>
<rect x="408.65" y="572.00" width="8.0" height="36.75" fill="#ea0070"/>
<rect x="420.33" y="572.00" width="8.0" height="26.25" fill="#ea0070"/>
<rect x="432.00" y="572.00" width="8.0" height="15.50" fill="#ea0070"/>
<rect x="443.68" y="572.00" width="8.0" height="10.00" fill="#ea0070"/>
<rect x="455.35" y="572.00" width="8.0" height="8.00" fill="#ea0070"/>
<rect x="467.03" y="572.00" width="8.0" height="11.25" fill="#ea0070"/>
<rect x="478.70" y="572.00" width="8.0" height="11.25" fill="#ea0070"/>
<rect x="490.38" y="572.00" width="8.0" height="15.50" fill="#ea0070"/>
<rect x="502.05" y="572.00" width="8.0" height="18.00" fill="#ea0070"/>
<rect x="513.73" y="572.00" width="8.0" height="20.50" fill="#ea0070"/>
<rect x="525.40" y="572.00" width="8.0" height="21.75" fill="#ea0070"/>
<rect x="537.08" y="572.00" width="8.0" height="19.25" fill="#ea0070"/>
<rect x="548.75" y="572.00" width="8.0" height="18.00" fill="#ea0070"/>
<rect x="560.42" y="572.00" width="8.0" height="16.25" fill="#ea0070"/>
<rect x="572.10" y="572.00" width="8.0" height="14.25" fill="#ea0070"/>
<rect x="583.78" y="572.00" width="8.0" height="14.25" fill="#ea0070"/>
<rect x="595.45" y="572.00" width="8.0" height="16.25" fill="#ea0070"/>
<rect x="607.12" y="572.00" width="8.0" height="17.50" fill="#ea0070"/>
<rect x="618.80" y="572.00" width="8.0" height="19.25" fill="#ea0070"/>
<rect x="630.48" y="572.00" width="8.0" height="16.25" fill="#ea0070"/>
<rect x="642.15" y="572.00" width="8.0" height="19.25" fill="#ea0070"/>
<rect x="653.83" y="572.00" width="8.0" height="18.00" fill="#ea0070"/>
<rect x="665.50" y="572.00" width="8.0" height="14.25" fill="#ea0070"/>
<rect x="677.17" y="572.00" width="8.0" height="11.25" fill="#ea0070"/>
<rect x="688.85" y="572.00" width="8.0" height="9.25" fill="#ea0070"/>
<rect x="700.53" y="572.00" width="8.0" height="7.50" fill="#ea0070"/>
<rect x="712.20" y="572.00" width="8.0" height="6.25" fill="#ea0070"/>
<rect x="723.88" y="572.00" width="8.0" height="4.25" fill="#ea0070"/>
<rect x="735.55" y="572.00" width="8.0" height="1.75" fill="#ea0070"/>
<rect x="747.23" y="570.75" width="8.0" height="1.25" fill="#70a800"/>
<rect x="758.90" y="570.00" width="8.0" height="2.00" fill="#70a800"/>
<rect x="770.58" y="572.00" width="8.0" height="1.75" fill="#ea0070"/>
<rect x="782.25" y="572.00" width="8.0" height="1.50" fill="#ea0070"/>
<rect x="793.92" y="572.00" width="8.0" height="2.50" fill="#ea0070"/>
<rect x="805.60" y="572.00" width="8.0" height="2.50" fill="#ea0070"/>
<rect x="817.28" y="571.25" width="8.0" height="0.75" fill="#70a800"/>
<rect x="828.95" y="569.25" width="8.0" height="2.75" fill="#70a800"/>
<rect x="840.62" y="567.00" width="8.0" height="5.00" fill="#70a800"/>
<rect x="852.30" y="567.00" width="8.0" height="5.00" fill="#70a800"/>
<rect x="863.98" y="567.00" width="8.0" height="5.00" fill="#70a800"/>
<rect x="875.65" y="567.00" width="8.0" height="5.00" fill="#70a800"/>
<rect x="887.33" y="567.00" width="8.0" height="5.00" fill="#70a800"/>
<rect x="899.00" y="565.50" width="8.0" height="6.50" fill="#70a800"/>
<rect x="910.67" y="564.25" width="8.0" height="7.75" fill="#70a800"/>
<rect x="922.35" y="564.25" width="8.0" height="7.75" fill="#70a800"/>
<rect x="934.03" y="563.00" width="8.0" height="9.00" fill="#70a800"/>
<rect x="945.70" y="563.00" width="8.0" height="9.00" fill="#70a800"/>
<rect x="957.38" y="563.00" width="8.0" height="9.00" fill="#70a800"/>
<rect x="969.05" y="563.00" width="8.0" height="9.00" fill="#70a800"/>
<rect x="980.73" y="563.00" width="8.0" height="9.00" fill="#70a800"/>
<rect x="992.40" y="561.75" width="8.0" height="10.25" fill="#70a800"/>
<rect x="1004.08" y="561.75" width="8.0" height="10.25" fill="#70a800"/>
<rect x="1015.75" y="561.75" width="8.0" height="10.25" fill="#70a800"/>
<rect x="1027.42" y="563.00" width="8.0" height="9.00" fill="#70a800"/>
<rect x="1039.10" y="563.00" width="8.0" height="9.00" fill="#70a800"/>
<rect x="1050.78" y="563.00" width="8.0" height="9.00" fill="#70a800"/>
<rect x="1062.45" y="560.50" width="8.0" height="11.50" fill="#70a800"/>
<rect x="1074.12" y="559.25" width="8.0" height="12.75" fill="#70a800"/>
<rect x="1085.80" y="559.25" width="8.0" height="12.75" fill="#70a800"/>
<rect x="1097.48" y="560.50" width="8.0" height="11.50" fill="#70a800"/>
<rect x="1109.15" y="560.50" width="8.0" height="11.50" fill="#70a800"/>
<rect x="1120.83" y="560.50" width="8.0" height="11.50" fill="#70a800"/>
<rect x="1132.50" y="560.00" width="8.0" height="12.00" fill="#70a800"/>
<rect x="1144.17" y="561.75" width="8.0" height="10.25" fill="#70a800"/>
<rect x="1155.85" y="564.25" width="8.0" height="7.75" fill="#70a800"/>
<rect x="1167.53" y="568.00" width="8.0" height="4.00" fill="#70a800"/>
<rect x="1179.20" y="571.25" width="8.0" height="0.75" fill="#70a800"/>
<rect x="1190.88" y="572.00" width="8.0" height="1.25" fill="#ea0070"/>
<rect x="1202.55" y="572.00" width="8.0" height="2.25" fill="#ea0070"/>
<rect x="1214.23" y="572.00" width="8.0" height="4.25" fill="#ea0070"/>
<rect x="1225.90" y="572.00" width="8.0" height="6.20" fill="#ea0070"/>
<rect x="1237.58" y="572.00" width="8.0" height="7.00" fill="#ea0070"/>
<rect x="1249.25" y="572.00" width="8.0" height="7.00" fill="#ea0070"/>
<rect x="1260.92" y="572.00" width="8.0" height="7.00" fill="#ea0070"/>
<path d="M385.00 572.00L1272.00 572.00" stroke="#9a9a9a" stroke-width="1.1" stroke-dasharray="8 4" opacity="0.75"/>
<path d="M459.2 550.8L471.0 553.0L482.8 555.8L494.2 558.8L506.0 562.5L517.8 567.5L529.2 573.2L541.0 578.8L552.8 583.0L564.2 586.2L576.0 589.5L587.8 592.0L599.2 595.8L611.0 600.5L622.8 604.5L634.5 608.2L646.0 613.0L657.8 617.0L669.5 620.5L681.0 623.0L692.8 625.5L704.5 628.2L716.0 629.5L727.8 629.5L739.5 629.5L751.0 629.2L762.8 629.5L774.5 629.5L786.0 630.0L797.8 630.5L800.0 630.5L821.2 630.5L833.0 629.5L844.5 628.0L856.2 626.8L868.0 625.0L879.5 624.2L891.2 623.0L903.0 620.5L914.8 619.2L926.2 616.8L938.0 614.2L949.8 611.8L961.2 609.2L973.0 608.0L984.8 605.5L996.5 603.0L1008.0 600.5L1019.8 598.2L1031.5 595.8L1043.0 593.2L1054.8 590.8L1066.5 588.2L1078.0 584.5L1089.8 580.8L1101.5 578.0L1113.0 575.0L1124.8 571.2L1136.5 569.2L1148.2 566.8L1159.8 564.5L1171.5 563.0L1183.2 563.0L1195.0 563.0L1206.5 564.2L1218.2 565.0L1229.9 565.0L1241.6 566.4L1253.2 567.8L1264.9 569.2" stroke="#ffb400" stroke-width="1.5" fill="none" stroke-linejoin="round"/>
<path d="M389.2 565.8L401.0 571.8L412.5 571.2L424.2 568.0L436.0 560.5L447.5 558.0L459.2 556.8L471.0 563.0L482.8 567.5L494.2 573.8L506.0 581.2L517.8 588.8L529.2 593.8L541.0 596.2L552.8 599.5L564.2 600.8L576.0 602.0L587.8 604.5L599.2 612.0L611.0 617.5L622.8 622.0L634.5 624.2L646.0 630.5L657.8 634.2L669.5 634.2L716.0 634.2L727.8 632.5L739.5 630.0L751.0 628.8L762.8 628.0L774.5 629.2L786.0 630.5L797.8 631.8L800.0 631.8L821.2 630.5L833.0 626.8L844.5 623.0L856.2 621.2L868.0 618.8L879.5 618.0L891.2 616.8L903.0 613.0L914.8 610.5L926.2 608.0L938.0 605.5L949.8 603.2L961.2 600.8L973.0 598.2L984.8 595.8L996.5 593.2L1008.0 589.2L1019.8 587.0L1031.5 585.5L1043.0 584.2L1054.8 581.8L1066.5 575.0L1078.0 569.5L1089.8 566.8L1101.5 565.5L1113.0 562.5L1124.8 558.8L1136.5 556.2L1148.2 555.5L1159.8 558.0L1171.5 559.2L1183.2 562.0L1195.0 563.2L1206.5 565.8L1218.2 568.2L1229.9 572.0L1241.6 574.3L1253.2 575.4L1264.9 576.8" stroke="#6a00d9" stroke-width="1.5" fill="none" stroke-linejoin="round"/>
<text x="446.30" y="649.20" font-size="13.6" fill="#2b90d9" text-anchor="middle" >May</text>
<text x="540.00" y="649.20" font-size="13.6" fill="#2b90d9" text-anchor="middle" >Jul</text>
<text x="645.00" y="649.20" font-size="13.6" fill="#2b90d9" text-anchor="middle" >Sep</text>
<text x="750.00" y="649.20" font-size="13.6" fill="#2b90d9" text-anchor="middle" >Nov</text>
<text x="855.50" y="649.20" font-size="13.6" fill="#2b90d9" text-anchor="middle" >2019</text>
<text x="949.50" y="649.20" font-size="13.6" fill="#2b90d9" text-anchor="middle" >Mar</text>
<text x="1054.50" y="649.20" font-size="13.6" fill="#2b90d9" text-anchor="middle" >May</text>
<text x="1146.00" y="649.20" font-size="13.6" fill="#2b90d9" text-anchor="middle" >Jul</text>
<text x="1252.00" y="649.20" font-size="13.6" fill="#2b90d9" text-anchor="middle" >Sep</text>
<clipPath id="axclip"><rect x="1273" y="440" width="47.6" height="200"/></clipPath>
<path d="M1272.00 456.50L1277.00 456.50" stroke="#dcdcdc" stroke-width="1" />
<g clip-path="url(#axclip)"><text x="1282.3" y="459.6" font-size="12.6" fill="#8c8c8c" textLength="44.5" lengthAdjust="spacingAndGlyphs">6868504.40</text>
<text x="1282.30" y="573.20" font-size="12.8" fill="#8c8c8c" text-anchor="start" >0.00</text>
</g>
<path d="M1268.3 534.6L1276.5 525.8000000000001H1321.6V543.4H1276.5Z" fill="#fff" stroke="#ea0070" stroke-width="1.3"/>
<g clip-path="url(#axclip)">
<text x="1282.50" y="539.30" font-size="13" fill="#8c8c8c" text-anchor="start" >555781</text>
</g>
<path d="M1268.3 578.2L1276.5 569.8000000000001H1321.6V586.6H1276.5Z" fill="#fff" stroke="#ea0070" stroke-width="1.3"/>
<g clip-path="url(#axclip)">
<text x="1282.50" y="582.90" font-size="13" fill="#8c8c8c" text-anchor="start" >-8.99</text>
</g>
<path d="M1268.3 398.2L1275.5 389.4H1321.6V407H1275.5Z" fill="#fff" stroke="#ea0070" stroke-width="1.3"/>
<text x="1282.50" y="402.90" font-size="13" fill="#8c8c8c" text-anchor="start" >180.12</text></svg>
<div style="position:absolute;left:384.00px;top:667.00px;width:940.00px;height:302.00px;box-sizing:border-box;background:#f7f7f7;border:1px solid #e2e2e2;"></div>
<div style="position:absolute;left:526.00px;top:666.00px;width:800.00px;height:42.50px;box-sizing:border-box;background:#fff;border-bottom:1px solid #e2e2e2;"></div>
<div style="position:absolute;left:526.00px;top:667.00px;width:92.00px;height:41.50px;box-sizing:border-box;background:#fff;border:1px solid #e2e2e2;"></div>
<div style="position:absolute;top:676.00px;line-height:24px;font-size:17.2px;color:#222;white-space:nowrap;-webkit-text-stroke:0.25px #222;left:403.00px;">Sàn giao dịch</div>
<div style="position:absolute;top:675.50px;line-height:25px;font-size:17.5px;color:#222;white-space:nowrap;-webkit-text-stroke:0.25px #222;left:545.00px;">Margin</div>
<div style="position:absolute;top:677.50px;line-height:21px;font-size:15.3px;color:#222;white-space:nowrap;-webkit-text-stroke:0.3px #222;right:448.00px;">Quy tắt giao dịch</div>
<svg style="left:1271px;top:677px" width="19.5" height="21" viewBox="0 0 19.5 21">
<path d="M8.2 0.3 C9.6 1.6 10.8 2.8 11.7 4 C12.8 5.4 13.6 6.6 14.1 7.7 C14.5 6.6 14.6 5.4 14.5 4.1 C15.8 5.2 16.7 6.4 17.4 7.6 C18.2 9 18.7 10.3 18.8 11.6 C18.9 13 18.7 14.3 18.1 15.6 C17.6 16.8 16.8 17.9 15.7 18.8 C14.8 19.5 13.8 20 12.7 20.4 C13.4 19.2 13.6 17.8 13.3 16.3 C13.1 15.1 12.9 13.9 12.5 12.7 C12 11.4 11.3 10.2 10.5 9.1 C10.1 9.8 9.6 10.4 9 10.8 C8.9 11.8 8.6 12.7 8.2 13.5 L7.4 12.3 C6.4 13.3 5.5 14.5 5 15.9 C4.7 16.6 4.7 17.3 4.8 18 C4.9 18.9 5.2 19.7 5.6 20.4 C4.5 20 3.5 19.4 2.6 18.7 C1.5 17.8 0.8 16.7 0.4 15.5 C0.1 14.4 0.2 13.3 0.6 12.3 C1.1 11 1.8 9.9 2.6 8.8 C3 8.1 3.3 7.3 3.4 6.4 C3.7 7.4 3.9 8.5 4 9.6 C5.2 8.7 6.2 7.6 7 6.4 C7.5 5.5 8 4.6 8.2 3.6 C8.4 2.5 8.4 1.4 8.2 0.3 Z" fill="#ecb23c"/></svg>
<svg style="left:1306.2px;top:679.6px" width="16.6" height="20" viewBox="0 0 16.6 20"><rect x="0" y="0" width="16.6" height="19.9" rx="1" fill="#585858"/><rect x="2.7" y="2.1" width="11.4" height="3.1" fill="#fff"/><rect x="2.90" y="7.15" width="2.6" height="2.5" fill="#fff"/><rect x="7.05" y="7.15" width="2.6" height="2.5" fill="#fff"/><rect x="11.20" y="7.15" width="2.6" height="2.5" fill="#fff"/><rect x="2.90" y="10.95" width="2.6" height="2.5" fill="#fff"/><rect x="7.05" y="10.95" width="2.6" height="2.5" fill="#fff"/><rect x="11.20" y="10.95" width="2.6" height="2.5" fill="#fff"/><rect x="2.90" y="14.85" width="2.6" height="2.5" fill="#fff"/><rect x="7.05" y="14.85" width="2.6" height="2.5" fill="#fff"/><rect x="11.20" y="14.85" width="2.6" height="2.5" fill="#fff"/></svg>
<div style="position:absolute;left:403.00px;top:718.20px;width:66.50px;height:37.40px;box-sizing:border-box;background:#f7f7f7;border:1px solid #e6e6e6;border-radius:19px;"></div>
<div style="position:absolute;left:475.50px;top:718.20px;width:82.50px;height:37.40px;box-sizing:border-box;background:#fff;border:1px solid #e6e6e6;border-radius:19px;"></div>
<div style="position:absolute;left:564.30px;top:718.20px;width:160.70px;height:37.40px;box-sizing:border-box;background:#fff;border:1px solid #e6e6e6;border-radius:19px;"></div>
<div style="position:absolute;top:724.30px;line-height:25px;font-size:18px;color:#f0b90b;white-space:nowrap;-webkit-text-stroke:0.2px #f0b90b;left:417.00px;">Limit</div>
<div style="position:absolute;top:724.30px;line-height:25px;font-size:18px;color:#222;white-space:nowrap;-webkit-text-stroke:0.25px #222;left:489.50px;">Market</div>
<div style="position:absolute;top:723.80px;line-height:26px;font-size:18.6px;color:#222;white-space:nowrap;-webkit-text-stroke:0.25px #222;left:577.50px;letter-spacing:0.25px;">Stop-limit</div>
<svg style="left:671px;top:727.5px" width="17" height="17" viewBox="0 0 17 17"><circle cx="8.5" cy="8.5" r="8" fill="#444"/><text x="8.5" y="12.8" font-size="12.5" font-weight="bold" fill="#fff" text-anchor="middle" font-family="Liberation Sans, sans-serif">?</text></svg>
<svg style="left:698px;top:733.5px" width="13" height="7" viewBox="0 0 13 7"><path d="M0.5 0.5H12.5L6.5 6.5Z" fill="#8a8f99"/></svg>
<div style="position:absolute;left:385.00px;top:764.50px;width:938.00px;height:1.00px;box-sizing:border-box;background:#e2e2e2;"></div>
<div style="position:absolute;left:854.00px;top:785.00px;width:1.00px;height:179.00px;box-sizing:border-box;background:#dcdcdc;"></div>
<div style="position:absolute;top:789.70px;line-height:23px;font-size:16.3px;color:#222;white-space:nowrap;font-weight:bold;left:418.20px;">Mua ETH</div>
<svg style="left:662px;top:791.5px" width="25" height="20" viewBox="0 0 25 20" fill="none" stroke="#333" stroke-width="1.45">
<path d="M1.2 4 V2.3 Q1.2 1.1 2.4 1.1 H19.6 V3.8"/>
<rect x="1.2" y="3.9" width="21.2" height="15" rx="1.3"/>
<path d="M23.7 6.7H15.6 A4.25 4.25 0 0 0 15.6 15.2H23.7Z" fill="#f7f7f7"/>
<circle cx="15.9" cy="10.95" r="1.6" stroke-width="1.3"/></svg>
<div style="position:absolute;top:791.50px;line-height:20px;font-size:14px;color:#222;white-space:nowrap;right:888.00px;">160.58225387 <b>USDT</b></div>
<div style="position:absolute;top:843.00px;line-height:21px;font-size:14.8px;color:#4d4d4d;white-space:nowrap;-webkit-text-stroke:0.4px #4d4d4d;left:418.20px;">Giá:</div>
<div style="position:absolute;top:880.00px;line-height:21px;font-size:14.8px;color:#4d4d4d;white-space:nowrap;-webkit-text-stroke:0.4px #4d4d4d;left:418.20px;">Số lượng:</div>
<div style="position:absolute;top:952.30px;line-height:21px;font-size:14.8px;color:#4d4d4d;white-space:nowrap;-webkit-text-stroke:0.4px #4d4d4d;left:418.20px;">Tổng:</div>
<div style="position:absolute;left:518.30px;top:838.40px;width:302.50px;height:31.60px;box-sizing:border-box;background:#fff;border:1px solid #dedede;"></div>
<div style="position:absolute;left:518.30px;top:876.40px;width:302.50px;height:30.60px;box-sizing:border-box;background:#fff;border:1px solid #dedede;"></div>
<div style="position:absolute;left:518.30px;top:947.30px;width:302.50px;height:30.70px;box-sizing:border-box;background:#fff;border:1px solid #dedede;"></div>
<div style="position:absolute;top:843.00px;line-height:20px;font-size:14px;color:#333;white-space:nowrap;left:533.00px;">180,08</div>
<div style="position:absolute;top:844.00px;line-height:20px;font-size:14px;color:#cfcfcf;white-space:nowrap;-webkit-text-stroke:0.4px #cfcfcf;right:913.70px;">USDT</div>
<div style="position:absolute;top:881.00px;line-height:20px;font-size:14px;color:#cfcfcf;white-space:nowrap;-webkit-text-stroke:0.4px #cfcfcf;right:913.70px;">ETH</div>
<div style="position:absolute;top:953.00px;line-height:20px;font-size:14px;color:#cfcfcf;white-space:nowrap;-webkit-text-stroke:0.4px #cfcfcf;right:913.70px;">USDT</div>
<div style="position:absolute;left:518.30px;top:913.20px;width:70.70px;height:26.50px;box-sizing:border-box;background:#fff;border:1px solid #dedede;"></div>
<div style="position:absolute;top:916.70px;line-height:20px;font-size:14.3px;color:#222;white-space:nowrap;-webkit-text-stroke:0.15px #222;left:353.65px;width:400px;text-align:center;">25%</div>
<div style="position:absolute;left:593.30px;top:913.20px;width:70.40px;height:26.50px;box-sizing:border-box;background:#fff;border:1px solid #dedede;"></div>
<div style="position:absolute;top:916.70px;line-height:20px;font-size:14.3px;color:#222;white-space:nowrap;-webkit-text-stroke:0.15px #222;left:428.50px;width:400px;text-align:center;">50%</div>
<div style="position:absolute;left:668.20px;top:913.20px;width:70.50px;height:26.50px;box-sizing:border-box;background:#fff;border:1px solid #dedede;"></div>
<div style="position:absolute;top:916.70px;line-height:20px;font-size:14.3px;color:#222;white-space:nowrap;-webkit-text-stroke:0.15px #222;left:503.45px;width:400px;text-align:center;">75%</div>
<div style="position:absolute;left:742.40px;top:913.20px;width:78.40px;height:26.50px;box-sizing:border-box;background:#fff;border:1px solid #dedede;"></div>
<div style="position:absolute;top:916.70px;line-height:20px;font-size:14.3px;color:#222;white-space:nowrap;-webkit-text-stroke:0.15px #222;left:581.60px;width:400px;text-align:center;">100%</div>
<div style="position:absolute;top:789.70px;line-height:23px;font-size:16.3px;color:#222;white-space:nowrap;font-weight:bold;left:887.70px;">Bán ETH</div>
<svg style="left:1156.9px;top:791.5px" width="25" height="20" viewBox="0 0 25 20" fill="none" stroke="#333" stroke-width="1.45">
<path d="M1.2 4 V2.3 Q1.2 1.1 2.4 1.1 H19.6 V3.8"/>
<rect x="1.2" y="3.9" width="21.2" height="15" rx="1.3"/>
<path d="M23.7 6.7H15.6 A4.25 4.25 0 0 0 15.6 15.2H23.7Z" fill="#f7f7f7"/>
<circle cx="15.9" cy="10.95" r="1.6" stroke-width="1.3"/></svg>
<div style="position:absolute;top:791.50px;line-height:20px;font-size:14px;color:#222;white-space:nowrap;right:418.70px;">0.04000700 <b style="font-weight:normal;-webkit-text-stroke:0.3px #222">ETH</b></div>
<div style="position:absolute;top:843.00px;line-height:21px;font-size:14.8px;color:#4d4d4d;white-space:nowrap;-webkit-text-stroke:0.4px #4d4d4d;left:887.70px;">Giá:</div>
<div style="position:absolute;top:880.00px;line-height:21px;font-size:14.8px;color:#4d4d4d;white-space:nowrap;-webkit-text-stroke:0.4px #4d4d4d;left:887.70px;">Số lượng:</div>
<div style="position:absolute;top:952.30px;line-height:21px;font-size:14.8px;color:#4d4d4d;white-space:nowrap;-webkit-text-stroke:0.4px #4d4d4d;left:887.70px;">Tổng:</div>
<div style="position:absolute;left:988.30px;top:838.40px;width:301.70px;height:31.60px;box-sizing:border-box;background:#fff;border:1px solid #dedede;"></div>
<div style="position:absolute;left:988.30px;top:876.40px;width:301.70px;height:30.60px;box-sizing:border-box;background:#fff;border:1px solid #dedede;"></div>
<div style="position:absolute;left:988.30px;top:947.30px;width:301.70px;height:30.70px;box-sizing:border-box;background:#fff;border:1px solid #dedede;"></div>
<div style="position:absolute;top:843.00px;line-height:20px;font-size:14px;color:#333;white-space:nowrap;left:1003.00px;">180,08</div>
<div style="position:absolute;top:844.00px;line-height:20px;font-size:14px;color:#cfcfcf;white-space:nowrap;-webkit-text-stroke:0.4px #cfcfcf;right:444.50px;">USDT</div>
<div style="position:absolute;top:881.00px;line-height:20px;font-size:14px;color:#cfcfcf;white-space:nowrap;-webkit-text-stroke:0.4px #cfcfcf;right:444.50px;">ETH</div>
<div style="position:absolute;top:953.00px;line-height:20px;font-size:14px;color:#cfcfcf;white-space:nowrap;-webkit-text-stroke:0.4px #cfcfcf;right:444.50px;">USDT</div>
<div style="position:absolute;left:988.30px;top:913.20px;width:70.70px;height:26.50px;box-sizing:border-box;background:#fff;border:1px solid #dedede;"></div>
<div style="position:absolute;top:916.70px;line-height:20px;font-size:14.3px;color:#222;white-space:nowrap;-webkit-text-stroke:0.15px #222;left:823.65px;width:400px;text-align:center;">25%</div>
<div style="position:absolute;left:1063.20px;top:913.20px;width:69.50px;height:26.50px;box-sizing:border-box;background:#fff;border:1px solid #dedede;"></div>
<div style="position:absolute;top:916.70px;line-height:20px;font-size:14.3px;color:#222;white-space:nowrap;-webkit-text-stroke:0.15px #222;left:897.95px;width:400px;text-align:center;">50%</div>
<div style="position:absolute;left:1137.30px;top:913.20px;width:70.50px;height:26.50px;box-sizing:border-box;background:#fff;border:1px solid #dedede;"></div>
<div style="position:absolute;top:916.70px;line-height:20px;font-size:14.3px;color:#222;white-space:nowrap;-webkit-text-stroke:0.15px #222;left:972.55px;width:400px;text-align:center;">75%</div>
<div style="position:absolute;left:1212.30px;top:913.20px;width:77.70px;height:26.50px;box-sizing:border-box;background:#fff;border:1px solid #dedede;"></div>
<div style="position:absolute;top:916.70px;line-height:20px;font-size:14.3px;color:#222;white-space:nowrap;-webkit-text-stroke:0.15px #222;left:1051.15px;width:400px;text-align:center;">100%</div>
<div style="position:absolute;left:1337.00px;top:7.50px;width:351.50px;height:487.00px;box-sizing:border-box;background:#fff;border:1px solid #e4e4e4;border-top:none;"></div>
<div style="position:absolute;left:1338.50px;top:8.00px;width:349.00px;height:32.50px;box-sizing:border-box;background:#f7f7f7;"></div>
<div style="position:absolute;left:1343.30px;top:9.30px;width:32.30px;height:26.70px;box-sizing:border-box;background:#fff;border:1px solid #e6e6e6;"></div>
<svg style="left:1349.5px;top:12.5px" width="20" height="19" viewBox="0 0 20 19"><path d="M10 1.2L12.5 6.9L18.7 7.5L14 11.6L15.4 17.7L10 14.5L4.6 17.7L6 11.6L1.3 7.5L7.5 6.9Z" fill="#222" stroke="#222" stroke-width="1.6" stroke-linejoin="round"/></svg>
<div style="position:absolute;left:1378.30px;top:9.30px;width:32.10px;height:26.70px;box-sizing:border-box;background:#fff;border:1px solid #e6e6e6;"></div>
<div style="position:absolute;top:9.10px;line-height:27px;font-size:19px;color:#222;white-space:nowrap;-webkit-text-stroke:0.3px #222;left:1194.35px;width:400px;text-align:center;">M</div>
<div style="position:absolute;left:1416.00px;top:9.30px;width:44.50px;height:26.70px;box-sizing:border-box;background:#fff;border:1px solid #e6e6e6;"></div>
<div style="position:absolute;top:12.60px;line-height:20px;font-size:14.2px;color:#222;white-space:nowrap;-webkit-text-stroke:0.3px #222;left:1238.25px;width:400px;text-align:center;">BNB</div>
<div style="position:absolute;left:1466.20px;top:9.30px;width:41.30px;height:26.70px;box-sizing:border-box;background:#fff;border:1px solid #e6e6e6;"></div>
<div style="position:absolute;top:12.60px;line-height:20px;font-size:14.2px;color:#222;white-space:nowrap;-webkit-text-stroke:0.3px #222;left:1286.85px;width:400px;text-align:center;">BTC</div>
<div style="position:absolute;left:1513.20px;top:9.30px;width:83.00px;height:26.70px;box-sizing:border-box;background:#fff;border:1px solid #e6e6e6;"></div>
<div style="position:absolute;top:13.10px;line-height:19px;font-size:13.5px;color:#222;white-space:nowrap;-webkit-text-stroke:0.3px #222;left:1527.40px;">ALTS</div>
<div style="position:absolute;left:1598.80px;top:9.30px;width:83.20px;height:26.70px;box-sizing:border-box;background:#fff;border:1px solid #e6e6e6;"></div>
<div style="position:absolute;left:1598.80px;top:9.30px;width:62.40px;height:26.70px;box-sizing:border-box;background:#fef6e3;border:1px solid #f0b90b;"></div>
<div style="position:absolute;top:13.10px;line-height:19px;font-size:13.5px;color:#f0b90b;white-space:nowrap;-webkit-text-stroke:0.3px #f0b90b;left:1430.00px;width:400px;text-align:center;">USDT</div>
<svg style="left:1582.5px;top:20px" width="6" height="5" viewBox="0 0 6 5"><path d="M0.2 0.4H5.4L2.8 4.4Z" fill="#222"/></svg>
<svg style="left:1667.5px;top:20px" width="6" height="5" viewBox="0 0 6 5"><path d="M0.2 0.4H5.4L2.8 4.4Z" fill="#222"/></svg>
<svg style="left:1560px;top:0" width="149" height="70"><rect x="17.45" y="7.2" width="123.6" height="45.2" rx="1.5" fill="none" stroke="#ff0000" stroke-width="3.5"/></svg>
<div style="position:absolute;left:1343.30px;top:46.30px;width:124.40px;height:27.30px;box-sizing:border-box;background:#fff;border:1px solid #dcdcdc;"></div>
<svg style="left:1349px;top:50px" width="20" height="20" viewBox="0 0 20 20" fill="none" stroke="#333" stroke-width="1.3"><circle cx="8.8" cy="8.6" r="7.3"/><path d="M14 14L18.6 18.8"/></svg>
<div style="position:absolute;top:50.50px;line-height:21px;font-size:14.8px;color:#c3c9d3;white-space:nowrap;-webkit-text-stroke:0.4px #c3c9d3;left:1374.50px;">Tìm kiếm&nbsp; .</div>
<svg style="left:1516px;top:52.5px" width="16" height="16" viewBox="0 0 16 16"><circle cx="8" cy="8" r="7.2" fill="#fff" stroke="#ead9ae" stroke-width="1.1"/><circle cx="8" cy="8" r="3.1" fill="#f0b90b"/></svg>
<div style="position:absolute;top:49.50px;line-height:21px;font-size:14.9px;color:#222;white-space:nowrap;-webkit-text-stroke:0.3px #222;left:1537.80px;">Thay đổi</div>
<svg style="left:1603px;top:52.5px" width="16" height="16" viewBox="0 0 16 16"><circle cx="8" cy="8" r="7.2" fill="#fff" stroke="#d2d2d2" stroke-width="1.2"/></svg>
<div style="position:absolute;top:49.50px;line-height:21px;font-size:14.9px;color:#222;white-space:nowrap;-webkit-text-stroke:0.3px #222;left:1624.80px;">volume</div>
<div style="position:absolute;top:79.20px;line-height:20px;font-size:14.6px;color:#8f8f8f;white-space:nowrap;-webkit-text-stroke:0.35px #8f8f8f;left:1388.60px;">Cặp</div>
<svg style="left:1425px;top:86px" width="12" height="7" viewBox="0 0 12 7"><path d="M0.4 6.4H11L5.7 0.5Z" fill="#9a9a9a"/></svg>
<div style="position:absolute;top:80.00px;line-height:20px;font-size:14.6px;color:#8f8f8f;white-space:nowrap;-webkit-text-stroke:0.35px #8f8f8f;left:1499.50px;">Giá</div>
<div style="position:absolute;top:80.00px;line-height:20px;font-size:14.6px;color:#8f8f8f;white-space:nowrap;-webkit-text-stroke:0.35px #8f8f8f;right:29.50px;">Thay đổi</div>
<div style="position:absolute;left:1338.00px;top:103.00px;width:349.50px;height:1.00px;box-sizing:border-box;background:#e6e6e6;"></div>
<div style="position:absolute;left:1338.5px;top:104px;width:349px;height:389.5px;overflow:hidden;">
<svg style="left:6.0px;top:2.9px" width="17" height="17" viewBox="0 0 17 17"><path d="M8.5 1.3L10.7 6.1L15.9 6.7L12 10.2L13.1 15.4L8.5 12.8L3.9 15.4L5 10.2L1.1 6.7L6.3 6.1Z" fill="none" stroke="#f0b90b" stroke-width="1.35" stroke-linejoin="round"/></svg>
<div style="position:absolute;top:2.40px;line-height:20px;font-size:14.3px;color:#222;white-space:nowrap;-webkit-text-stroke:0.4px #222;left:35.30px;">ADA/USDT</div>
<svg style="left:122.40000000000009px;top:2.9px" width="17.2" height="18.2" viewBox="0 0 17.2 18.2"><rect x="0.6" y="0.6" width="16.0" height="17" rx="3.6" fill="#fff" stroke="#f0b90b" stroke-width="1.4"/><text x="8.6" y="14.4" font-size="14.6" font-weight="bold" fill="#f0b90b" text-anchor="middle" font-family="Liberation Sans, sans-serif">M</text></svg>
<div style="position:absolute;top:2.40px;line-height:20px;font-size:14px;color:#444;white-space:nowrap;left:147.70px;">0.04566</div>
<div style="position:absolute;top:2.40px;line-height:20px;font-size:14.5px;color:#ea0070;white-space:nowrap;-webkit-text-stroke:0.3px #ea0070;right:15.20px;">-3.57%</div>
<svg style="left:6.0px;top:27.9px" width="17" height="17" viewBox="0 0 17 17"><path d="M8.5 1.3L10.7 6.1L15.9 6.7L12 10.2L13.1 15.4L8.5 12.8L3.9 15.4L5 10.2L1.1 6.7L6.3 6.1Z" fill="none" stroke="#f0b90b" stroke-width="1.35" stroke-linejoin="round"/></svg>
<div style="position:absolute;top:27.40px;line-height:20px;font-size:14.3px;color:#222;white-space:nowrap;-webkit-text-stroke:0.4px #222;left:35.30px;">ALGO/USDT</div>
<div style="position:absolute;top:27.40px;line-height:20px;font-size:14px;color:#444;white-space:nowrap;left:147.70px;">0.372</div>
<div style="position:absolute;top:27.40px;line-height:20px;font-size:14.5px;color:#ea0070;white-space:nowrap;-webkit-text-stroke:0.3px #ea0070;right:15.20px;">-0.27%</div>
<svg style="left:6.0px;top:52.9px" width="17" height="17" viewBox="0 0 17 17"><path d="M8.5 1.3L10.7 6.1L15.9 6.7L12 10.2L13.1 15.4L8.5 12.8L3.9 15.4L5 10.2L1.1 6.7L6.3 6.1Z" fill="none" stroke="#f0b90b" stroke-width="1.35" stroke-linejoin="round"/></svg>
<div style="position:absolute;top:52.40px;line-height:20px;font-size:14.3px;color:#222;white-space:nowrap;-webkit-text-stroke:0.4px #222;left:35.30px;">ANKR/USDT</div>
<div style="position:absolute;top:52.40px;line-height:20px;font-size:14px;color:#444;white-space:nowrap;left:147.70px;">0.003046</div>
<div style="position:absolute;top:52.40px;line-height:20px;font-size:14.5px;color:#70a800;white-space:nowrap;-webkit-text-stroke:0.3px #70a800;right:15.20px;">1.20%</div>
<svg style="left:6.0px;top:77.9px" width="17" height="17" viewBox="0 0 17 17"><path d="M8.5 1.3L10.7 6.1L15.9 6.7L12 10.2L13.1 15.4L8.5 12.8L3.9 15.4L5 10.2L1.1 6.7L6.3 6.1Z" fill="none" stroke="#f0b90b" stroke-width="1.35" stroke-linejoin="round"/></svg>
<div style="position:absolute;top:77.40px;line-height:20px;font-size:14.3px;color:#222;white-space:nowrap;-webkit-text-stroke:0.4px #222;left:35.30px;">ATOM/USDT</div>
<div style="position:absolute;top:77.40px;line-height:20px;font-size:14px;color:#444;white-space:nowrap;left:147.70px;">2.626</div>
<div style="position:absolute;top:77.40px;line-height:20px;font-size:14.5px;color:#ea0070;white-space:nowrap;-webkit-text-stroke:0.3px #ea0070;right:15.20px;">-7.24%</div>
<svg style="left:6.0px;top:102.9px" width="17" height="17" viewBox="0 0 17 17"><path d="M8.5 1.3L10.7 6.1L15.9 6.7L12 10.2L13.1 15.4L8.5 12.8L3.9 15.4L5 10.2L1.1 6.7L6.3 6.1Z" fill="none" stroke="#f0b90b" stroke-width="1.35" stroke-linejoin="round"/></svg>
<div style="position:absolute;top:102.40px;line-height:20px;font-size:14.3px;color:#222;white-space:nowrap;-webkit-text-stroke:0.4px #222;left:35.30px;">BAT/USDT</div>
<div style="position:absolute;top:102.40px;line-height:20px;font-size:14px;color:#444;white-space:nowrap;left:147.70px;">0.1707</div>
<div style="position:absolute;top:102.40px;line-height:20px;font-size:14.5px;color:#ea0070;white-space:nowrap;-webkit-text-stroke:0.3px #ea0070;right:15.20px;">-2.29%</div>
<svg style="left:6.0px;top:127.9px" width="17" height="17" viewBox="0 0 17 17"><path d="M8.5 1.3L10.7 6.1L15.9 6.7L12 10.2L13.1 15.4L8.5 12.8L3.9 15.4L5 10.2L1.1 6.7L6.3 6.1Z" fill="none" stroke="#f0b90b" stroke-width="1.35" stroke-linejoin="round"/></svg>
<div style="position:absolute;top:127.40px;line-height:20px;font-size:14.3px;color:#222;white-space:nowrap;-webkit-text-stroke:0.4px #222;left:35.30px;">BCHABC/U...</div>
<svg style="left:124.5px;top:127.9px" width="15.2" height="18.2" viewBox="0 0 15.2 18.2"><rect x="0.6" y="0.6" width="14.0" height="17" rx="3.6" fill="#fff" stroke="#f0b90b" stroke-width="1.4"/><text x="7.6" y="14.4" font-size="14.6" font-weight="bold" fill="#f0b90b" text-anchor="middle" font-family="Liberation Sans, sans-serif">M</text></svg>
<div style="position:absolute;top:127.40px;line-height:20px;font-size:14px;color:#444;white-space:nowrap;left:147.70px;">302.95</div>
<div style="position:absolute;top:127.40px;line-height:20px;font-size:14.5px;color:#ea0070;white-space:nowrap;-webkit-text-stroke:0.3px #ea0070;right:15.20px;">-0.92%</div>
<svg style="left:6.0px;top:152.9px" width="17" height="17" viewBox="0 0 17 17"><path d="M8.5 1.3L10.7 6.1L15.9 6.7L12 10.2L13.1 15.4L8.5 12.8L3.9 15.4L5 10.2L1.1 6.7L6.3 6.1Z" fill="none" stroke="#f0b90b" stroke-width="1.35" stroke-linejoin="round"/></svg>
<div style="position:absolute;top:152.40px;line-height:20px;font-size:14.3px;color:#222;white-space:nowrap;-webkit-text-stroke:0.4px #222;left:35.30px;">BNB/USDT</div>
<svg style="left:122.40000000000009px;top:152.9px" width="17.2" height="18.2" viewBox="0 0 17.2 18.2"><rect x="0.6" y="0.6" width="16.0" height="17" rx="3.6" fill="#fff" stroke="#f0b90b" stroke-width="1.4"/><text x="8.6" y="14.4" font-size="14.6" font-weight="bold" fill="#f0b90b" text-anchor="middle" font-family="Liberation Sans, sans-serif">M</text></svg>
<div style="position:absolute;top:152.40px;line-height:20px;font-size:14px;color:#444;white-space:nowrap;left:147.70px;">21.6627</div>
<div style="position:absolute;top:152.40px;line-height:20px;font-size:14.5px;color:#ea0070;white-space:nowrap;-webkit-text-stroke:0.3px #ea0070;right:15.20px;">-2.31%</div>
<svg style="left:6.0px;top:177.9px" width="17" height="17" viewBox="0 0 17 17"><path d="M8.5 1.3L10.7 6.1L15.9 6.7L12 10.2L13.1 15.4L8.5 12.8L3.9 15.4L5 10.2L1.1 6.7L6.3 6.1Z" fill="none" stroke="#f0b90b" stroke-width="1.35" stroke-linejoin="round"/></svg>
<div style="position:absolute;top:177.40px;line-height:20px;font-size:14.3px;color:#222;white-space:nowrap;-webkit-text-stroke:0.4px #222;left:35.30px;">BTC/USDT</div>
<svg style="left:122.40000000000009px;top:177.9px" width="17.2" height="18.2" viewBox="0 0 17.2 18.2"><rect x="0.6" y="0.6" width="16.0" height="17" rx="3.6" fill="#fff" stroke="#f0b90b" stroke-width="1.4"/><text x="8.6" y="14.4" font-size="14.6" font-weight="bold" fill="#f0b90b" text-anchor="middle" font-family="Liberation Sans, sans-serif">M</text></svg>
<div style="position:absolute;top:177.40px;line-height:20px;font-size:14px;color:#70a800;white-space:nowrap;-webkit-text-stroke:0.25px #70a800;left:147.70px;">10,097.00</div>
<div style="position:absolute;top:177.40px;line-height:20px;font-size:14.5px;color:#ea0070;white-space:nowrap;-webkit-text-stroke:0.3px #ea0070;right:15.20px;">-1.76%</div>
<svg style="left:6.0px;top:202.9px" width="17" height="17" viewBox="0 0 17 17"><path d="M8.5 1.3L10.7 6.1L15.9 6.7L12 10.2L13.1 15.4L8.5 12.8L3.9 15.4L5 10.2L1.1 6.7L6.3 6.1Z" fill="none" stroke="#f0b90b" stroke-width="1.35" stroke-linejoin="round"/></svg>
<div style="position:absolute;top:202.40px;line-height:20px;font-size:14.3px;color:#222;white-space:nowrap;-webkit-text-stroke:0.4px #222;left:35.30px;">BTT/USDT</div>
<div style="position:absolute;top:202.40px;line-height:20px;font-size:14px;color:#70a800;white-space:nowrap;-webkit-text-stroke:0.25px #70a800;left:147.70px;">0.0005622</div>
<div style="position:absolute;top:202.40px;line-height:20px;font-size:14.5px;color:#ea0070;white-space:nowrap;-webkit-text-stroke:0.3px #ea0070;right:15.20px;">-6.91%</div>
<svg style="left:6.0px;top:227.9px" width="17" height="17" viewBox="0 0 17 17"><path d="M8.5 1.3L10.7 6.1L15.9 6.7L12 10.2L13.1 15.4L8.5 12.8L3.9 15.4L5 10.2L1.1 6.7L6.3 6.1Z" fill="none" stroke="#f0b90b" stroke-width="1.35" stroke-linejoin="round"/></svg>
<div style="position:absolute;top:227.40px;line-height:20px;font-size:14.3px;color:#222;white-space:nowrap;-webkit-text-stroke:0.4px #222;left:35.30px;">CELR/USDT</div>
<div style="position:absolute;top:227.40px;line-height:20px;font-size:14px;color:#444;white-space:nowrap;left:147.70px;">0.00548</div>
<div style="position:absolute;top:227.40px;line-height:20px;font-size:14.5px;color:#ea0070;white-space:nowrap;-webkit-text-stroke:0.3px #ea0070;right:15.20px;">-5.03%</div>
<svg style="left:6.0px;top:252.9px" width="17" height="17" viewBox="0 0 17 17"><path d="M8.5 1.3L10.7 6.1L15.9 6.7L12 10.2L13.1 15.4L8.5 12.8L3.9 15.4L5 10.2L1.1 6.7L6.3 6.1Z" fill="none" stroke="#f0b90b" stroke-width="1.35" stroke-linejoin="round"/></svg>
<div style="position:absolute;top:252.40px;line-height:20px;font-size:14.3px;color:#222;white-space:nowrap;-webkit-text-stroke:0.4px #222;left:35.30px;">CHZ/USDT</div>
<div style="position:absolute;top:252.40px;line-height:20px;font-size:14px;color:#444;white-space:nowrap;left:147.70px;">0.007777</div>
<div style="position:absolute;top:252.40px;line-height:20px;font-size:14.5px;color:#ea0070;white-space:nowrap;-webkit-text-stroke:0.3px #ea0070;right:15.20px;">-8.53%</div>
<svg style="left:6.0px;top:277.9px" width="17" height="17" viewBox="0 0 17 17"><path d="M8.5 1.3L10.7 6.1L15.9 6.7L12 10.2L13.1 15.4L8.5 12.8L3.9 15.4L5 10.2L1.1 6.7L6.3 6.1Z" fill="none" stroke="#f0b90b" stroke-width="1.35" stroke-linejoin="round"/></svg>
<div style="position:absolute;top:277.40px;line-height:20px;font-size:14.3px;color:#222;white-space:nowrap;-webkit-text-stroke:0.4px #222;left:35.30px;">COCOS/USDT</div>
<div style="position:absolute;top:277.40px;line-height:20px;font-size:14px;color:#444;white-space:nowrap;left:147.70px;">0.001295</div>
<div style="position:absolute;top:277.40px;line-height:20px;font-size:14.5px;color:#ea0070;white-space:nowrap;-webkit-text-stroke:0.3px #ea0070;right:15.20px;">-4.29%</div>
<svg style="left:6.0px;top:302.9px" width="17" height="17" viewBox="0 0 17 17"><path d="M8.5 1.3L10.7 6.1L15.9 6.7L12 10.2L13.1 15.4L8.5 12.8L3.9 15.4L5 10.2L1.1 6.7L6.3 6.1Z" fill="none" stroke="#f0b90b" stroke-width="1.35" stroke-linejoin="round"/></svg>
<div style="position:absolute;top:302.40px;line-height:20px;font-size:14.3px;color:#222;white-space:nowrap;-webkit-text-stroke:0.4px #222;left:35.30px;">COS/USDT</div>
<div style="position:absolute;top:302.40px;line-height:20px;font-size:14px;color:#ea0070;white-space:nowrap;-webkit-text-stroke:0.25px #ea0070;left:147.70px;">0.02044</div>
<div style="position:absolute;top:302.40px;line-height:20px;font-size:14.5px;color:#ea0070;white-space:nowrap;-webkit-text-stroke:0.3px #ea0070;right:15.20px;">-5.76%</div>
<svg style="left:6.0px;top:327.9px" width="17" height="17" viewBox="0 0 17 17"><path d="M8.5 1.3L10.7 6.1L15.9 6.7L12 10.2L13.1 15.4L8.5 12.8L3.9 15.4L5 10.2L1.1 6.7L6.3 6.1Z" fill="none" stroke="#f0b90b" stroke-width="1.35" stroke-linejoin="round"/></svg>
<div style="position:absolute;top:327.40px;line-height:20px;font-size:14.3px;color:#222;white-space:nowrap;-webkit-text-stroke:0.4px #222;left:35.30px;">CVC/USDT</div>
<div style="position:absolute;top:327.40px;line-height:20px;font-size:14px;color:#444;white-space:nowrap;left:147.70px;">0.04265</div>
<div style="position:absolute;top:327.40px;line-height:20px;font-size:14.5px;color:#ea0070;white-space:nowrap;-webkit-text-stroke:0.3px #ea0070;right:15.20px;">-2.60%</div>
<svg style="left:6.0px;top:352.9px" width="17" height="17" viewBox="0 0 17 17"><path d="M8.5 1.3L10.7 6.1L15.9 6.7L12 10.2L13.1 15.4L8.5 12.8L3.9 15.4L5 10.2L1.1 6.7L6.3 6.1Z" fill="none" stroke="#f0b90b" stroke-width="1.35" stroke-linejoin="round"/></svg>
<div style="position:absolute;top:352.40px;line-height:20px;font-size:14.3px;color:#222;white-space:nowrap;-webkit-text-stroke:0.4px #222;left:35.30px;">DASH/USDT</div>
<div style="position:absolute;top:352.40px;line-height:20px;font-size:14px;color:#444;white-space:nowrap;left:147.70px;">84.73</div>
<div style="position:absolute;top:352.40px;line-height:20px;font-size:14.5px;color:#ea0070;white-space:nowrap;-webkit-text-stroke:0.3px #ea0070;right:15.20px;">-1.35%</div>
<svg style="left:6.0px;top:377.9px" width="17" height="17" viewBox="0 0 17 17"><path d="M8.5 1.3L10.7 6.1L15.9 6.7L12 10.2L13.1 15.4L8.5 12.8L3.9 15.4L5 10.2L1.1 6.7L6.3 6.1Z" fill="none" stroke="#f0b90b" stroke-width="1.35" stroke-linejoin="round"/></svg>
<div style="position:absolute;top:377.40px;line-height:20px;font-size:14.3px;color:#222;white-space:nowrap;-webkit-text-stroke:0.4px #222;left:35.30px;">DENT/USDT</div>
<div style="position:absolute;top:377.40px;line-height:20px;font-size:14px;color:#444;white-space:nowrap;left:147.70px;">0.0004313</div>
<div style="position:absolute;top:377.40px;line-height:20px;font-size:14.5px;color:#ea0070;white-space:nowrap;-webkit-text-stroke:0.3px #ea0070;right:15.20px;">-0.21%</div>
</div>
<div style="position:absolute;left:1681.70px;top:104.00px;width:5.60px;height:389.50px;box-sizing:border-box;background:#d0d0d0;"></div>
<div style="position:absolute;left:1681.70px;top:104.00px;width:5.60px;height:92.00px;box-sizing:border-box;background:#9b9b9b;"></div>
<div style="position:absolute;top:508.30px;line-height:24px;font-size:17.2px;color:#222;white-space:nowrap;-webkit-text-stroke:0.5px #222;left:1337.30px;">Lịch sử giao dịch</div>
<div style="position:absolute;left:1508.00px;top:510.00px;width:179.00px;height:21.70px;box-sizing:border-box;background:#fff;border:1px solid #e6e6e6;"></div>
<div style="position:absolute;left:1604.20px;top:510.00px;width:1.00px;height:21.70px;box-sizing:border-box;background:#e6e6e6;"></div>
<div style="position:absolute;top:510.80px;line-height:21px;font-size:14.9px;color:#f0b90b;white-space:nowrap;-webkit-text-stroke:0.25px #f0b90b;left:1356.50px;width:400px;text-align:center;">Thị trường</div>
<div style="position:absolute;top:510.80px;line-height:21px;font-size:14.9px;color:#222;white-space:nowrap;-webkit-text-stroke:0.25px #222;left:1446.00px;width:400px;text-align:center;">Của bạn</div>
<div style="position:absolute;left:1337.00px;top:536.00px;width:351.50px;height:428.00px;box-sizing:border-box;background:#fff;border:1px solid #e4e4e4;"></div>
<div style="position:absolute;top:537.60px;line-height:20px;font-size:14px;color:#ea0070;white-space:nowrap;-webkit-text-stroke:0.2px #ea0070;left:1346.30px;">180.11</div>
<div style="position:absolute;top:537.60px;line-height:20px;font-size:14px;color:#3a3a3a;white-space:nowrap;left:1514.60px;">0.62900</div>
<div style="position:absolute;top:537.60px;line-height:20px;font-size:13.9px;color:#9a9a9a;white-space:nowrap;right:31.00px;">10:31:41</div>
<div style="position:absolute;top:560.10px;line-height:20px;font-size:14px;color:#ea0070;white-space:nowrap;-webkit-text-stroke:0.2px #ea0070;left:1346.30px;">180.12</div>
<div style="position:absolute;top:560.10px;line-height:20px;font-size:14px;color:#3a3a3a;white-space:nowrap;left:1514.60px;">1.18396</div>
<div style="position:absolute;top:560.10px;line-height:20px;font-size:13.9px;color:#9a9a9a;white-space:nowrap;right:31.00px;">10:31:41</div>
<div style="position:absolute;top:582.60px;line-height:20px;font-size:14px;color:#ea0070;white-space:nowrap;-webkit-text-stroke:0.2px #ea0070;left:1346.30px;">180.12</div>
<div style="position:absolute;top:582.60px;line-height:20px;font-size:14px;color:#3a3a3a;white-space:nowrap;left:1514.60px;">0.11200</div>
<div style="position:absolute;top:582.60px;line-height:20px;font-size:13.9px;color:#9a9a9a;white-space:nowrap;right:31.00px;">10:31:41</div>
<div style="position:absolute;top:605.10px;line-height:20px;font-size:14px;color:#ea0070;white-space:nowrap;-webkit-text-stroke:0.2px #ea0070;left:1346.30px;">180.12</div>
<div style="position:absolute;top:605.10px;line-height:20px;font-size:14px;color:#3a3a3a;white-space:nowrap;left:1514.60px;">0.08400</div>
<div style="position:absolute;top:605.10px;line-height:20px;font-size:13.9px;color:#9a9a9a;white-space:nowrap;right:31.00px;">10:31:39</div>
<div style="position:absolute;top:627.60px;line-height:20px;font-size:14px;color:#70a800;white-space:nowrap;-webkit-text-stroke:0.2px #70a800;left:1346.30px;">180.13</div>
<div style="position:absolute;top:627.60px;line-height:20px;font-size:14px;color:#3a3a3a;white-space:nowrap;left:1514.60px;">0.16057</div>
<div style="position:absolute;top:627.60px;line-height:20px;font-size:13.9px;color:#9a9a9a;white-space:nowrap;right:31.00px;">10:31:38</div>
<div style="position:absolute;top:650.10px;line-height:20px;font-size:14px;color:#ea0070;white-space:nowrap;-webkit-text-stroke:0.2px #ea0070;left:1346.30px;">180.12</div>
<div style="position:absolute;top:650.10px;line-height:20px;font-size:14px;color:#3a3a3a;white-space:nowrap;left:1514.60px;">1.48200</div>
<div style="position:absolute;top:650.10px;line-height:20px;font-size:13.9px;color:#9a9a9a;white-space:nowrap;right:31.00px;">10:31:38</div>
<div style="position:absolute;top:672.60px;line-height:20px;font-size:14px;color:#ea0070;white-space:nowrap;-webkit-text-stroke:0.2px #ea0070;left:1346.30px;">180.12</div>
<div style="position:absolute;top:672.60px;line-height:20px;font-size:14px;color:#3a3a3a;white-space:nowrap;left:1514.60px;">0.11400</div>
<div style="position:absolute;top:672.60px;line-height:20px;font-size:13.9px;color:#9a9a9a;white-space:nowrap;right:31.00px;">10:31:36</div>
<div style="position:absolute;top:695.10px;line-height:20px;font-size:14px;color:#ea0070;white-space:nowrap;-webkit-text-stroke:0.2px #ea0070;left:1346.30px;">180.13</div>
<div style="position:absolute;top:695.10px;line-height:20px;font-size:14px;color:#3a3a3a;white-space:nowrap;left:1514.60px;">1.42645</div>
<div style="position:absolute;top:695.10px;line-height:20px;font-size:13.9px;color:#9a9a9a;white-space:nowrap;right:31.00px;">10:31:36</div>
<div style="position:absolute;top:717.60px;line-height:20px;font-size:14px;color:#ea0070;white-space:nowrap;-webkit-text-stroke:0.2px #ea0070;left:1346.30px;">180.12</div>
<div style="position:absolute;top:717.60px;line-height:20px;font-size:14px;color:#3a3a3a;white-space:nowrap;left:1514.60px;">0.14500</div>
<div style="position:absolute;top:717.60px;line-height:20px;font-size:13.9px;color:#9a9a9a;white-space:nowrap;right:31.00px;">10:31:35</div>
<div style="position:absolute;top:740.10px;line-height:20px;font-size:14px;color:#ea0070;white-space:nowrap;-webkit-text-stroke:0.2px #ea0070;left:1346.30px;">180.13</div>
<div style="position:absolute;top:740.10px;line-height:20px;font-size:14px;color:#3a3a3a;white-space:nowrap;left:1514.60px;">1.00000</div>
<div style="position:absolute;top:740.10px;line-height:20px;font-size:13.9px;color:#9a9a9a;white-space:nowrap;right:31.00px;">10:31:35</div>
<div style="position:absolute;top:762.60px;line-height:20px;font-size:14px;color:#ea0070;white-space:nowrap;-webkit-text-stroke:0.2px #ea0070;left:1346.30px;">180.13</div>
<div style="position:absolute;top:762.60px;line-height:20px;font-size:14px;color:#3a3a3a;white-space:nowrap;left:1514.60px;">0.06855</div>
<div style="position:absolute;top:762.60px;line-height:20px;font-size:13.9px;color:#9a9a9a;white-space:nowrap;right:31.00px;">10:31:35</div>
<div style="position:absolute;top:785.10px;line-height:20px;font-size:14px;color:#ea0070;white-space:nowrap;-webkit-text-stroke:0.2px #ea0070;left:1346.30px;">180.13</div>
<div style="position:absolute;top:785.10px;line-height:20px;font-size:14px;color:#3a3a3a;white-space:nowrap;left:1514.60px;">0.25900</div>
<div style="position:absolute;top:785.10px;line-height:20px;font-size:13.9px;color:#9a9a9a;white-space:nowrap;right:31.00px;">10:31:35</div>
<div style="position:absolute;top:807.60px;line-height:20px;font-size:14px;color:#70a800;white-space:nowrap;-webkit-text-stroke:0.2px #70a800;left:1346.30px;">180.15</div>
<div style="position:absolute;top:807.60px;line-height:20px;font-size:14px;color:#3a3a3a;white-space:nowrap;left:1514.60px;">0.38163</div>
<div style="position:absolute;top:807.60px;line-height:20px;font-size:13.9px;color:#9a9a9a;white-space:nowrap;right:31.00px;">10:31:33</div>
<div style="position:absolute;top:830.10px;line-height:20px;font-size:14px;color:#ea0070;white-space:nowrap;-webkit-text-stroke:0.2px #ea0070;left:1346.30px;">180.09</div>
<div style="position:absolute;top:830.10px;line-height:20px;font-size:14px;color:#3a3a3a;white-space:nowrap;left:1514.60px;">0.15198</div>
<div style="position:absolute;top:830.10px;line-height:20px;font-size:13.9px;color:#9a9a9a;white-space:nowrap;right:31.00px;">10:31:30</div>
<div style="position:absolute;top:852.60px;line-height:20px;font-size:14px;color:#ea0070;white-space:nowrap;-webkit-text-stroke:0.2px #ea0070;left:1346.30px;">180.10</div>
<div style="position:absolute;top:852.60px;line-height:20px;font-size:14px;color:#3a3a3a;white-space:nowrap;left:1514.60px;">0.11102</div>
<div style="position:absolute;top:852.60px;line-height:20px;font-size:13.9px;color:#9a9a9a;white-space:nowrap;right:31.00px;">10:31:30</div>
<div style="position:absolute;top:875.10px;line-height:20px;font-size:14px;color:#70a800;white-space:nowrap;-webkit-text-stroke:0.2px #70a800;left:1346.30px;">180.14</div>
<div style="position:absolute;top:875.10px;line-height:20px;font-size:14px;color:#3a3a3a;white-space:nowrap;left:1514.60px;">5.55250</div>
<div style="position:absolute;top:875.10px;line-height:20px;font-size:13.9px;color:#9a9a9a;white-space:nowrap;right:31.00px;">10:31:30</div>
<div style="position:absolute;top:897.60px;line-height:20px;font-size:14px;color:#70a800;white-space:nowrap;-webkit-text-stroke:0.2px #70a800;left:1346.30px;">180.14</div>
<div style="position:absolute;top:897.60px;line-height:20px;font-size:14px;color:#3a3a3a;white-space:nowrap;left:1514.60px;">8.67648</div>
<div style="position:absolute;top:897.60px;line-height:20px;font-size:13.9px;color:#9a9a9a;white-space:nowrap;right:31.00px;">10:31:30</div>
<div style="position:absolute;top:920.10px;line-height:20px;font-size:14px;color:#70a800;white-space:nowrap;-webkit-text-stroke:0.2px #70a800;left:1346.30px;">180.12</div>
<div style="position:absolute;top:920.10px;line-height:20px;font-size:14px;color:#3a3a3a;white-space:nowrap;left:1514.60px;">2.22258</div>
<div style="position:absolute;top:920.10px;line-height:20px;font-size:13.9px;color:#9a9a9a;white-space:nowrap;right:31.00px;">10:31:30</div>
<div style="position:absolute;top:942.60px;line-height:20px;font-size:14px;color:#70a800;white-space:nowrap;-webkit-text-stroke:0.2px #70a800;left:1346.30px;">180.11</div>
<div style="position:absolute;top:942.60px;line-height:20px;font-size:14px;color:#3a3a3a;white-space:nowrap;left:1514.60px;">0.11103</div>
<div style="position:absolute;top:942.60px;line-height:20px;font-size:13.9px;color:#9a9a9a;white-space:nowrap;right:31.00px;">10:31:30</div>
<div style="position:absolute;left:1681.00px;top:537.00px;width:5.70px;height:422.00px;box-sizing:border-box;background:#d0d0d0;"></div>
<div style="position:absolute;left:1681.00px;top:537.00px;width:5.70px;height:113.00px;box-sizing:border-box;background:#9b9b9b;"></div>
</div></body></html>
